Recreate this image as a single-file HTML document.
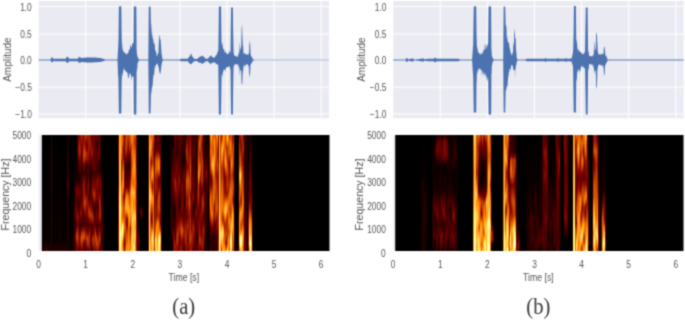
<!DOCTYPE html>
<html><head><meta charset="utf-8"><style>
html,body{margin:0;padding:0;background:#fff;}
#w{position:relative;width:685px;height:320px;overflow:hidden;background:#fff;filter:url(#sb);}
svg{position:absolute;left:0;top:0;}
.sp{position:absolute;top:135px;height:116px;width:289px;}
.sp i{position:absolute;top:0;width:1px;height:100%;display:block;}
</style></head><body><svg width="0" height="0" style="position:absolute"><filter id="sb" x="0" y="0" width="100%" height="100%" color-interpolation-filters="sRGB"><feConvolveMatrix order="3" kernelMatrix="1 2 1 2 8 2 1 2 1" divisor="20" edgeMode="duplicate"/></filter></svg><div id="w">
<svg width="685" height="320" viewBox="0 0 685 320">
<rect x="38.60" y="1.0" width="290.40" height="117.3" fill="#eaeaf2"/>
<line x1="38.60" x2="329.00" y1="6.50" y2="6.50" stroke="#fff" stroke-width="1"/>
<line x1="38.60" x2="329.00" y1="34.00" y2="34.00" stroke="#fff" stroke-width="1"/>
<line x1="38.60" x2="329.00" y1="60.20" y2="60.20" stroke="#fff" stroke-width="1"/>
<line x1="38.60" x2="329.00" y1="87.20" y2="87.20" stroke="#fff" stroke-width="1"/>
<line x1="38.60" x2="329.00" y1="114.00" y2="114.00" stroke="#fff" stroke-width="1"/>
<line x1="85.70" x2="85.70" y1="1.0" y2="118.3" stroke="#fff" stroke-width="1"/>
<line x1="132.80" x2="132.80" y1="1.0" y2="118.3" stroke="#fff" stroke-width="1"/>
<line x1="179.90" x2="179.90" y1="1.0" y2="118.3" stroke="#fff" stroke-width="1"/>
<line x1="227.00" x2="227.00" y1="1.0" y2="118.3" stroke="#fff" stroke-width="1"/>
<line x1="274.10" x2="274.10" y1="1.0" y2="118.3" stroke="#fff" stroke-width="1"/>
<line x1="321.20" x2="321.20" y1="1.0" y2="118.3" stroke="#fff" stroke-width="1"/>
<polygon points="38.6,59.5 39.1,59.4 39.6,59.4 40.1,59.4 40.6,59.4 41.1,59.4 41.6,59.4 42.1,59.4 42.6,59.4 43.1,59.4 43.6,59.4 44.1,59.4 44.6,59.4 45.1,59.4 45.6,59.4 46.1,59.4 46.6,59.4 47.1,59.4 47.6,59.4 48.1,59.4 48.6,59.4 49.1,59.4 49.6,59.4 50.1,59.4 50.5,59.4 50.6,59.2 51.1,58.3 51.5,57.5 51.6,57.5 52.1,57.5 52.6,57.5 53.0,57.5 53.1,57.8 53.5,59.2 53.6,59.2 54.1,59.0 54.6,58.8 55.0,58.7 55.1,58.7 55.6,58.7 56.1,58.7 56.6,58.7 57.1,58.7 57.6,58.7 58.1,58.7 58.6,58.7 59.1,58.7 59.6,58.7 60.1,58.7 60.6,58.7 61.1,58.7 61.6,58.7 62.1,58.7 62.6,58.7 63.1,58.7 63.6,58.7 64.0,58.7 64.1,58.7 64.6,58.9 65.0,59.1 65.1,59.0 65.6,58.4 66.1,57.8 66.6,57.2 66.8,57.0 67.1,57.0 67.6,57.0 68.1,57.0 68.2,57.0 68.6,57.8 69.0,58.7 69.1,58.7 69.6,58.7 70.1,58.7 70.6,58.7 71.1,58.7 71.6,58.7 72.1,58.7 72.6,58.7 73.1,58.7 73.6,58.7 74.1,58.7 74.6,58.7 75.1,58.7 75.6,58.7 76.1,58.7 76.6,58.7 77.1,58.7 77.6,58.7 78.0,58.7 78.1,58.3 78.5,56.7 78.6,57.6 79.1,56.8 79.6,57.4 80.0,57.2 80.1,57.0 80.6,57.4 81.0,58.0 81.1,58.0 81.6,58.0 82.1,57.9 82.6,57.9 83.1,57.9 83.6,57.8 84.1,57.8 84.6,57.7 85.1,57.7 85.6,57.7 86.1,57.6 86.6,57.6 87.1,57.6 87.6,57.5 88.0,57.5 88.1,57.5 88.6,57.5 89.1,57.5 89.6,57.5 90.1,57.5 90.6,57.5 91.1,57.5 91.6,57.5 92.1,57.5 92.6,57.5 93.1,57.5 93.6,57.5 94.1,57.5 94.6,57.5 95.0,57.5 95.1,57.5 95.6,57.6 96.1,57.6 96.6,57.7 97.1,57.7 97.6,57.8 98.1,57.8 98.6,57.9 99.1,57.9 99.6,58.0 100.0,58.0 100.1,58.0 100.6,58.1 101.1,58.3 101.6,58.4 102.1,58.5 102.6,58.6 103.1,58.8 103.6,58.9 104.0,59.0 104.1,59.0 104.6,59.2 105.0,59.4 105.1,59.4 105.6,59.4 106.1,59.4 106.6,59.4 107.1,59.4 107.6,59.4 108.1,59.4 108.6,59.4 109.1,59.4 109.6,59.4 110.1,59.4 110.6,59.4 111.1,59.4 111.6,59.4 112.1,59.4 112.6,59.4 113.1,59.4 113.6,59.4 114.1,59.4 114.6,59.4 115.1,59.4 115.6,59.4 116.1,59.4 116.6,59.4 117.1,59.4 117.5,59.4 117.6,57.2 118.1,49.0 118.4,43.6 118.6,34.8 118.9,6.5 119.1,6.5 119.6,6.4 120.1,6.4 120.6,6.3 121.1,6.2 121.3,6.2 121.6,32.7 122.0,48.9 122.1,41.9 122.6,49.8 123.1,50.2 123.6,52.0 124.0,52.4 124.1,51.3 124.6,53.2 125.1,52.9 125.6,53.5 126.1,53.6 126.6,55.4 127.0,52.9 127.1,53.8 127.6,53.4 128.1,53.2 128.6,51.0 129.1,49.8 129.6,48.9 130.0,50.1 130.1,46.5 130.6,44.2 131.1,47.6 131.6,46.1 132.0,48.4 132.1,43.4 132.6,43.4 133.1,43.6 133.5,42.2 133.6,37.7 133.8,6.5 134.1,6.5 134.6,6.5 135.1,6.5 135.6,6.5 136.1,6.5 136.3,6.5 136.6,49.6 137.0,54.5 137.1,54.7 137.6,56.8 138.0,58.0 138.1,58.1 138.6,58.8 139.0,59.4 139.1,59.4 139.6,59.4 140.1,59.4 140.6,59.4 141.1,59.4 141.6,59.4 142.1,59.4 142.6,59.4 143.1,59.4 143.6,59.4 144.1,59.4 144.6,59.4 145.1,59.4 145.6,59.4 146.1,59.4 146.6,59.4 147.1,59.4 147.6,59.4 148.1,59.4 148.3,59.4 148.6,31.4 148.8,6.6 149.1,6.6 149.6,6.6 150.1,6.6 150.4,6.6 150.6,9.4 151.0,29.6 151.1,21.6 151.6,31.8 152.0,36.2 152.1,31.9 152.6,39.2 153.0,36.8 153.1,38.8 153.6,41.9 154.0,44.4 154.1,43.7 154.6,42.7 155.0,48.3 155.1,49.8 155.6,51.2 156.1,51.7 156.6,55.6 157.0,56.4 157.1,56.9 157.6,53.9 158.1,53.1 158.5,53.3 158.6,48.8 159.1,36.1 159.5,34.5 159.6,36.2 160.1,39.6 160.5,39.2 160.6,40.3 161.1,47.2 161.5,53.2 161.6,54.0 162.1,56.6 162.3,58.5 162.6,58.9 163.0,59.4 163.1,59.4 163.6,59.4 164.1,59.4 164.6,59.4 165.1,59.4 165.6,59.4 166.1,59.4 166.6,59.4 167.1,59.4 167.6,59.4 168.1,59.4 168.6,59.4 169.1,59.4 169.6,59.4 170.1,59.4 170.6,59.4 171.1,59.4 171.6,59.4 172.1,59.4 172.6,59.4 173.1,59.4 173.6,59.4 174.1,59.4 174.6,59.4 175.1,59.4 175.6,59.4 176.1,59.4 176.6,59.4 177.1,59.4 177.6,59.4 178.1,59.4 178.6,59.4 179.1,59.4 179.6,59.4 180.0,59.4 180.1,59.3 180.6,59.0 181.0,58.8 181.1,58.8 181.6,58.8 182.1,58.8 182.6,58.8 183.1,58.8 183.6,58.8 184.1,58.8 184.6,58.8 185.1,58.8 185.6,58.8 186.1,58.8 186.6,58.8 187.1,58.8 187.6,58.8 188.0,58.8 188.1,58.6 188.6,57.5 189.1,56.8 189.3,56.5 189.6,56.9 190.1,55.1 190.5,55.6 190.6,54.6 191.1,52.4 191.5,55.5 191.6,54.7 192.1,55.8 192.5,57.0 192.6,56.8 193.1,57.4 193.6,58.2 194.0,58.8 194.1,58.8 194.6,58.8 195.1,58.8 195.6,58.9 196.1,58.9 196.6,58.9 197.0,58.9 197.1,58.8 197.6,58.5 198.1,58.1 198.6,57.8 199.0,57.5 199.1,57.4 199.6,57.0 200.1,56.0 200.6,56.4 201.1,56.8 201.5,56.1 201.6,55.9 202.1,56.4 202.6,55.3 203.0,55.8 203.1,56.1 203.6,56.5 204.1,57.5 204.5,57.5 204.6,57.6 205.1,58.0 205.6,58.5 206.0,58.8 206.1,58.8 206.6,58.8 207.1,58.8 207.6,58.8 208.0,58.8 208.1,58.6 208.6,57.7 209.1,57.7 209.5,56.3 209.6,56.2 210.1,56.6 210.6,56.0 211.0,55.3 211.1,55.1 211.6,55.9 212.1,56.8 212.5,57.5 212.6,57.5 213.1,57.5 213.6,57.5 214.1,57.5 214.5,57.5 214.6,57.4 215.1,57.0 215.6,55.8 216.1,55.2 216.5,55.3 216.6,55.0 217.1,52.9 217.6,52.5 218.1,49.9 218.3,52.4 218.6,34.7 218.9,6.5 219.1,6.5 219.6,6.5 220.1,6.5 220.6,6.5 221.0,6.5 221.1,12.6 221.5,43.1 221.6,42.8 222.1,46.2 222.6,41.6 223.0,50.5 223.1,49.3 223.6,48.4 224.1,49.3 224.6,52.4 225.1,52.4 225.6,52.3 226.0,50.1 226.1,52.8 226.6,53.6 227.1,53.8 227.6,54.6 228.0,53.6 228.1,53.8 228.6,54.0 229.1,49.9 229.6,52.7 230.1,52.2 230.5,52.3 230.6,46.2 231.1,7.5 231.6,7.5 232.1,7.5 232.6,7.5 232.9,7.5 233.1,30.5 233.5,48.6 233.6,52.6 234.1,55.2 234.5,56.3 234.6,55.5 235.1,55.7 235.6,55.7 236.1,56.6 236.6,56.5 237.1,56.7 237.6,56.6 238.0,56.5 238.1,55.0 238.6,54.1 239.1,51.3 239.3,54.1 239.6,44.4 239.8,41.7 240.1,47.7 240.3,47.2 240.6,50.4 241.1,47.8 241.2,46.8 241.6,27.9 242.1,24.3 242.3,32.7 242.6,39.2 242.8,45.6 243.1,45.3 243.5,53.5 243.6,53.4 244.0,54.7 244.1,53.4 244.6,52.5 245.1,54.4 245.6,53.5 246.1,55.3 246.6,53.6 247.1,55.1 247.6,54.6 248.0,54.4 248.1,52.2 248.6,54.9 249.0,54.0 249.1,51.8 249.4,38.6 249.6,42.5 250.0,44.4 250.1,41.0 250.5,52.6 250.6,54.1 251.1,56.1 251.5,56.6 251.6,57.1 252.1,57.3 252.6,58.5 253.0,59.4 253.1,59.4 253.6,59.5 254.1,59.6 254.6,59.7 255.0,59.8 255.1,59.8 255.6,59.8 256.1,59.8 256.6,59.8 257.1,59.8 257.6,59.8 258.1,59.8 258.6,59.8 259.1,59.8 259.6,59.8 260.1,59.8 260.6,59.8 261.1,59.8 261.6,59.8 262.1,59.8 262.6,59.8 263.1,59.8 263.6,59.8 264.1,59.8 264.6,59.8 265.1,59.8 265.6,59.8 266.1,59.8 266.6,59.8 267.1,59.8 267.6,59.8 268.1,59.8 268.6,59.8 269.1,59.8 269.6,59.8 270.1,59.8 270.6,59.8 271.1,59.8 271.6,59.8 272.1,59.8 272.6,59.8 273.1,59.8 273.6,59.8 274.1,59.8 274.6,59.8 275.1,59.8 275.6,59.8 276.1,59.8 276.6,59.8 277.1,59.8 277.6,59.8 278.1,59.8 278.6,59.8 279.1,59.8 279.6,59.8 280.1,59.8 280.6,59.8 281.1,59.8 281.6,59.8 282.1,59.8 282.6,59.8 283.1,59.8 283.6,59.8 284.1,59.8 284.6,59.8 285.1,59.8 285.6,59.8 286.1,59.8 286.6,59.8 287.1,59.8 287.6,59.8 288.1,59.8 288.6,59.8 289.1,59.8 289.6,59.8 290.1,59.8 290.6,59.8 291.1,59.8 291.6,59.8 292.1,59.8 292.6,59.8 293.1,59.8 293.6,59.8 294.1,59.8 294.6,59.8 295.1,59.8 295.6,59.8 296.1,59.8 296.6,59.8 297.1,59.8 297.6,59.8 298.1,59.8 298.6,59.8 299.1,59.8 299.6,59.8 300.1,59.8 300.6,59.8 301.1,59.8 301.6,59.8 302.1,59.8 302.6,59.8 303.1,59.8 303.6,59.8 304.1,59.8 304.6,59.8 305.1,59.8 305.6,59.8 306.1,59.8 306.6,59.8 307.1,59.8 307.6,59.8 308.1,59.8 308.6,59.8 309.1,59.8 309.6,59.8 310.1,59.8 310.6,59.8 311.1,59.8 311.6,59.8 312.1,59.8 312.6,59.8 313.1,59.8 313.6,59.8 314.1,59.8 314.6,59.8 315.1,59.8 315.6,59.8 316.1,59.8 316.6,59.8 317.1,59.8 317.6,59.8 318.1,59.8 318.6,59.8 319.1,59.8 319.6,59.8 320.1,59.8 320.6,59.8 321.1,59.8 321.6,59.8 322.1,59.8 322.6,59.8 323.1,59.8 323.6,59.8 324.1,59.8 324.6,59.8 325.1,59.8 325.6,59.8 326.1,59.8 326.6,59.8 327.1,59.8 327.6,59.8 328.1,59.8 328.6,59.8 329.0,59.8 329.0,60.3 328.6,60.3 328.1,60.3 327.6,60.3 327.1,60.3 326.6,60.3 326.1,60.3 325.6,60.3 325.1,60.3 324.6,60.3 324.1,60.3 323.6,60.3 323.1,60.3 322.6,60.3 322.1,60.3 321.6,60.3 321.1,60.3 320.6,60.3 320.1,60.3 319.6,60.3 319.1,60.3 318.6,60.3 318.1,60.3 317.6,60.3 317.1,60.3 316.6,60.3 316.1,60.3 315.6,60.3 315.1,60.3 314.6,60.3 314.1,60.3 313.6,60.3 313.1,60.3 312.6,60.3 312.1,60.3 311.6,60.3 311.1,60.3 310.6,60.3 310.1,60.3 309.6,60.3 309.1,60.3 308.6,60.3 308.1,60.3 307.6,60.3 307.1,60.3 306.6,60.3 306.1,60.3 305.6,60.3 305.1,60.3 304.6,60.3 304.1,60.3 303.6,60.3 303.1,60.3 302.6,60.3 302.1,60.3 301.6,60.3 301.1,60.3 300.6,60.3 300.1,60.3 299.6,60.3 299.1,60.3 298.6,60.3 298.1,60.3 297.6,60.3 297.1,60.3 296.6,60.3 296.1,60.3 295.6,60.3 295.1,60.3 294.6,60.3 294.1,60.3 293.6,60.3 293.1,60.3 292.6,60.3 292.1,60.3 291.6,60.3 291.1,60.3 290.6,60.3 290.1,60.3 289.6,60.3 289.1,60.3 288.6,60.3 288.1,60.3 287.6,60.3 287.1,60.3 286.6,60.3 286.1,60.3 285.6,60.3 285.1,60.3 284.6,60.3 284.1,60.3 283.6,60.3 283.1,60.3 282.6,60.3 282.1,60.3 281.6,60.3 281.1,60.3 280.6,60.3 280.1,60.3 279.6,60.3 279.1,60.3 278.6,60.3 278.1,60.3 277.6,60.3 277.1,60.3 276.6,60.3 276.1,60.3 275.6,60.3 275.1,60.3 274.6,60.3 274.1,60.3 273.6,60.3 273.1,60.3 272.6,60.3 272.1,60.3 271.6,60.3 271.1,60.3 270.6,60.3 270.1,60.3 269.6,60.3 269.1,60.3 268.6,60.3 268.1,60.3 267.6,60.3 267.1,60.3 266.6,60.3 266.1,60.3 265.6,60.3 265.1,60.3 264.6,60.3 264.1,60.3 263.6,60.3 263.1,60.3 262.6,60.3 262.1,60.3 261.6,60.3 261.1,60.3 260.6,60.3 260.1,60.3 259.6,60.3 259.1,60.3 258.6,60.3 258.1,60.3 257.6,60.3 257.1,60.3 256.6,60.3 256.1,60.3 255.6,60.3 255.1,60.3 255.0,60.3 254.6,60.4 254.1,60.4 253.6,60.5 253.1,60.6 253.0,60.6 252.6,61.5 252.1,62.7 251.6,62.8 251.5,63.0 251.1,63.7 250.6,65.1 250.5,65.1 250.1,73.2 250.0,79.0 249.6,73.7 249.4,75.7 249.1,73.8 249.0,69.3 248.6,65.6 248.1,65.8 248.0,64.1 247.6,65.0 247.1,64.0 246.6,64.6 246.1,64.1 245.6,65.6 245.1,67.0 244.6,64.0 244.1,66.6 244.0,65.4 243.6,66.5 243.5,66.1 243.1,72.8 242.8,70.2 242.6,76.4 242.3,86.2 242.1,82.5 241.6,85.1 241.2,71.4 241.1,69.9 240.6,70.7 240.3,69.2 240.1,71.7 239.8,76.2 239.6,72.6 239.3,65.4 239.1,66.7 238.6,68.0 238.1,64.0 238.0,64.0 237.6,65.0 237.1,64.3 236.6,64.3 236.1,64.1 235.6,64.9 235.1,64.1 234.6,64.1 234.5,64.6 234.1,66.3 233.6,66.5 233.5,68.6 233.1,91.9 232.9,114.4 232.6,114.4 232.1,114.4 231.6,114.4 231.1,114.4 230.6,72.0 230.5,68.5 230.1,68.9 229.6,66.6 229.1,66.1 228.6,66.4 228.1,66.7 228.0,67.0 227.6,66.9 227.1,67.7 226.6,66.8 226.1,67.9 226.0,67.4 225.6,72.6 225.1,68.5 224.6,70.3 224.1,69.6 223.6,69.7 223.1,72.2 223.0,72.1 222.6,77.7 222.1,72.8 221.6,76.1 221.5,79.0 221.1,107.5 221.0,114.4 220.6,114.4 220.1,114.4 219.6,114.4 219.1,114.4 218.9,114.4 218.6,86.9 218.3,66.6 218.1,65.0 217.6,64.5 217.1,63.9 216.6,64.9 216.5,64.2 216.1,63.6 215.6,63.6 215.1,62.4 214.6,62.6 214.5,62.5 214.1,62.5 213.6,62.5 213.1,62.5 212.6,62.5 212.5,62.5 212.1,63.6 211.6,63.3 211.1,63.3 211.0,64.6 210.6,64.5 210.1,63.1 209.6,63.0 209.5,63.8 209.1,62.7 208.6,62.3 208.1,61.4 208.0,61.2 207.6,61.2 207.1,61.2 206.6,61.2 206.1,61.2 206.0,61.2 205.6,61.5 205.1,62.0 204.6,62.4 204.5,62.5 204.1,62.4 203.6,63.0 203.1,63.3 203.0,63.5 202.6,64.0 202.1,63.5 201.6,63.2 201.5,63.5 201.1,63.6 200.6,62.5 200.1,62.4 199.6,62.9 199.1,62.6 199.0,62.5 198.6,62.2 198.1,61.9 197.6,61.5 197.1,61.2 197.0,61.1 196.6,61.1 196.1,61.1 195.6,61.1 195.1,61.2 194.6,61.2 194.1,61.2 194.0,61.2 193.6,61.8 193.1,62.6 192.6,62.2 192.5,62.9 192.1,63.4 191.6,63.5 191.5,64.6 191.1,63.8 190.6,64.2 190.5,64.1 190.1,64.0 189.6,63.2 189.3,63.4 189.1,63.0 188.6,62.5 188.1,61.4 188.0,61.2 187.6,61.2 187.1,61.2 186.6,61.2 186.1,61.2 185.6,61.2 185.1,61.2 184.6,61.2 184.1,61.2 183.6,61.2 183.1,61.2 182.6,61.2 182.1,61.2 181.6,61.2 181.1,61.2 181.0,61.2 180.6,61.0 180.1,60.7 180.0,60.6 179.6,60.6 179.1,60.6 178.6,60.6 178.1,60.6 177.6,60.6 177.1,60.6 176.6,60.6 176.1,60.6 175.6,60.6 175.1,60.6 174.6,60.6 174.1,60.6 173.6,60.6 173.1,60.6 172.6,60.6 172.1,60.6 171.6,60.6 171.1,60.6 170.6,60.6 170.1,60.6 169.6,60.6 169.1,60.6 168.6,60.6 168.1,60.6 167.6,60.6 167.1,60.6 166.6,60.6 166.1,60.6 165.6,60.6 165.1,60.6 164.6,60.6 164.1,60.6 163.6,60.6 163.1,60.6 163.0,60.6 162.6,61.1 162.3,61.5 162.1,62.3 161.6,64.5 161.5,65.1 161.1,68.0 160.6,74.0 160.5,75.1 160.1,71.3 159.6,74.0 159.5,73.3 159.1,69.8 158.6,66.7 158.5,67.0 158.1,65.6 157.6,63.7 157.1,63.6 157.0,63.5 156.6,64.1 156.1,64.9 155.6,65.5 155.1,68.2 155.0,65.3 154.6,68.2 154.1,75.3 154.0,75.7 153.6,74.0 153.1,78.3 153.0,80.1 152.6,85.0 152.1,88.4 152.0,85.2 151.6,91.0 151.1,95.0 151.0,89.9 150.6,109.7 150.4,113.5 150.1,113.5 149.6,113.5 149.1,113.5 148.8,113.5 148.6,84.0 148.3,60.6 148.1,60.6 147.6,60.6 147.1,60.6 146.6,60.6 146.1,60.6 145.6,60.6 145.1,60.6 144.6,60.6 144.1,60.6 143.6,60.6 143.1,60.6 142.6,60.6 142.1,60.6 141.6,60.6 141.1,60.6 140.6,60.6 140.1,60.6 139.6,60.6 139.1,60.6 139.0,60.6 138.6,61.2 138.1,61.9 138.0,62.0 137.6,63.4 137.1,70.0 137.0,68.8 136.6,72.5 136.3,114.4 136.1,114.4 135.6,114.4 135.1,114.4 134.6,114.4 134.1,114.4 133.8,114.4 133.6,83.8 133.5,76.3 133.1,77.7 132.6,75.5 132.1,76.9 132.0,75.8 131.6,80.9 131.1,76.0 130.6,74.2 130.1,72.7 130.0,73.9 129.6,72.9 129.1,76.0 128.6,78.2 128.1,77.7 127.6,73.2 127.1,73.0 127.0,72.1 126.6,71.7 126.1,72.0 125.6,70.6 125.1,71.3 124.6,68.0 124.1,70.3 124.0,70.0 123.6,68.6 123.1,72.8 122.6,77.0 122.1,72.4 122.0,71.3 121.6,84.9 121.3,113.5 121.1,113.5 120.6,113.5 120.1,113.5 119.6,113.5 119.1,113.5 118.9,113.5 118.6,90.4 118.4,76.9 118.1,76.1 117.6,62.8 117.5,60.6 117.1,60.6 116.6,60.6 116.1,60.6 115.6,60.6 115.1,60.6 114.6,60.6 114.1,60.6 113.6,60.6 113.1,60.6 112.6,60.6 112.1,60.6 111.6,60.6 111.1,60.6 110.6,60.6 110.1,60.6 109.6,60.6 109.1,60.6 108.6,60.6 108.1,60.6 107.6,60.6 107.1,60.6 106.6,60.6 106.1,60.6 105.6,60.6 105.1,60.6 105.0,60.6 104.6,60.8 104.1,61.0 104.0,61.0 103.6,61.1 103.1,61.2 102.6,61.4 102.1,61.5 101.6,61.6 101.1,61.7 100.6,61.9 100.1,62.0 100.0,62.0 99.6,62.0 99.1,62.1 98.6,62.1 98.1,62.1 97.6,62.1 97.1,62.2 96.6,62.2 96.1,62.2 95.6,62.3 95.1,62.3 95.0,62.3 94.6,62.3 94.1,62.3 93.6,62.3 93.1,62.4 92.6,62.4 92.1,62.4 91.6,62.4 91.1,62.4 90.6,62.4 90.1,62.4 89.6,62.5 89.1,62.5 88.6,62.5 88.1,62.5 88.0,62.5 87.6,62.5 87.1,62.4 86.6,62.4 86.1,62.4 85.6,62.3 85.1,62.3 84.6,62.3 84.1,62.2 83.6,62.2 83.1,62.1 82.6,62.1 82.1,62.1 81.6,62.0 81.1,62.0 81.0,62.0 80.6,62.6 80.1,63.2 80.0,62.4 79.6,62.4 79.1,62.9 78.6,62.5 78.5,62.3 78.1,61.7 78.0,61.3 77.6,61.3 77.1,61.3 76.6,61.3 76.1,61.3 75.6,61.3 75.1,61.3 74.6,61.3 74.1,61.3 73.6,61.3 73.1,61.3 72.6,61.3 72.1,61.3 71.6,61.3 71.1,61.3 70.6,61.3 70.1,61.3 69.6,61.3 69.1,61.3 69.0,61.3 68.6,62.1 68.2,62.8 68.1,62.8 67.6,62.8 67.1,62.8 66.8,62.8 66.6,62.6 66.1,62.1 65.6,61.5 65.1,61.0 65.0,60.9 64.6,61.1 64.1,61.3 64.0,61.3 63.6,61.3 63.1,61.3 62.6,61.3 62.1,61.3 61.6,61.3 61.1,61.3 60.6,61.3 60.1,61.3 59.6,61.3 59.1,61.3 58.6,61.3 58.1,61.3 57.6,61.3 57.1,61.3 56.6,61.3 56.1,61.3 55.6,61.3 55.1,61.3 55.0,61.3 54.6,61.2 54.1,61.0 53.6,60.8 53.5,60.8 53.1,62.0 53.0,62.3 52.6,62.3 52.1,62.3 51.6,62.3 51.5,62.3 51.1,61.6 50.6,60.8 50.5,60.6 50.1,60.6 49.6,60.6 49.1,60.6 48.6,60.6 48.1,60.6 47.6,60.6 47.1,60.6 46.6,60.6 46.1,60.6 45.6,60.6 45.1,60.6 44.6,60.6 44.1,60.6 43.6,60.6 43.1,60.6 42.6,60.6 42.1,60.6 41.6,60.6 41.1,60.6 40.6,60.6 40.1,60.6 39.6,60.6 39.1,60.6 38.6,60.5" fill="#4c72b0"/>
<text transform="translate(31.80,10.50) scale(0.84,1)" font-size="10" text-anchor="end" font-family="Liberation Sans" fill="#555555">1.0</text>
<text transform="translate(31.80,38.00) scale(0.84,1)" font-size="10" text-anchor="end" font-family="Liberation Sans" fill="#555555">0.5</text>
<text transform="translate(31.80,64.10) scale(0.84,1)" font-size="10" text-anchor="end" font-family="Liberation Sans" fill="#555555">0.0</text>
<text transform="translate(31.80,91.00) scale(0.84,1)" font-size="10" text-anchor="end" font-family="Liberation Sans" fill="#555555">−0.5</text>
<text transform="translate(31.80,118.00) scale(0.84,1)" font-size="10" text-anchor="end" font-family="Liberation Sans" fill="#555555">−1.0</text>
<text transform="translate(10.60,59.60) rotate(-90) scale(1,1)" font-size="10" text-anchor="middle" font-family="Liberation Sans" fill="#555555">Amplitude</text>
<rect x="38.60" y="135.0" width="290.40" height="116.0" fill="#eeeef5"/>
<rect x="41.80" y="135.0" width="287.70" height="116.0" fill="#000"/>
<text transform="translate(31.20,256.50) scale(0.84,1)" font-size="10" text-anchor="end" font-family="Liberation Sans" fill="#555555">0</text>
<text transform="translate(31.20,233.30) scale(0.84,1)" font-size="10" text-anchor="end" font-family="Liberation Sans" fill="#555555">1000</text>
<text transform="translate(31.20,209.60) scale(0.84,1)" font-size="10" text-anchor="end" font-family="Liberation Sans" fill="#555555">2000</text>
<text transform="translate(31.20,185.90) scale(0.84,1)" font-size="10" text-anchor="end" font-family="Liberation Sans" fill="#555555">3000</text>
<text transform="translate(31.20,162.90) scale(0.84,1)" font-size="10" text-anchor="end" font-family="Liberation Sans" fill="#555555">4000</text>
<text transform="translate(31.20,138.80) scale(0.84,1)" font-size="10" text-anchor="end" font-family="Liberation Sans" fill="#555555">5000</text>
<text transform="translate(38.60,267.50) scale(0.84,1)" font-size="10" text-anchor="middle" font-family="Liberation Sans" fill="#555555">0</text>
<text transform="translate(85.70,267.50) scale(0.84,1)" font-size="10" text-anchor="middle" font-family="Liberation Sans" fill="#555555">1</text>
<text transform="translate(132.80,267.50) scale(0.84,1)" font-size="10" text-anchor="middle" font-family="Liberation Sans" fill="#555555">2</text>
<text transform="translate(179.90,267.50) scale(0.84,1)" font-size="10" text-anchor="middle" font-family="Liberation Sans" fill="#555555">3</text>
<text transform="translate(227.00,267.50) scale(0.84,1)" font-size="10" text-anchor="middle" font-family="Liberation Sans" fill="#555555">4</text>
<text transform="translate(274.10,267.50) scale(0.84,1)" font-size="10" text-anchor="middle" font-family="Liberation Sans" fill="#555555">5</text>
<text transform="translate(321.20,267.50) scale(0.84,1)" font-size="10" text-anchor="middle" font-family="Liberation Sans" fill="#555555">6</text>
<text transform="translate(183.80,280.50) scale(0.84,1)" font-size="10.4" text-anchor="middle" font-family="Liberation Sans" fill="#555555">Time [s]</text>
<text transform="translate(8.60,194.50) rotate(-90) scale(1,1)" font-size="10.6" text-anchor="middle" font-family="Liberation Sans" fill="#555555">Frequency [Hz]</text>
<text transform="translate(183.80,313.50) scale(0.86,1)" font-size="24" text-anchor="middle" font-family="Liberation Serif" fill="#3a3a3a">(a)</text>
<rect x="393.20" y="1.0" width="290.40" height="117.3" fill="#eaeaf2"/>
<line x1="393.20" x2="683.60" y1="6.50" y2="6.50" stroke="#fff" stroke-width="1"/>
<line x1="393.20" x2="683.60" y1="34.00" y2="34.00" stroke="#fff" stroke-width="1"/>
<line x1="393.20" x2="683.60" y1="60.20" y2="60.20" stroke="#fff" stroke-width="1"/>
<line x1="393.20" x2="683.60" y1="87.20" y2="87.20" stroke="#fff" stroke-width="1"/>
<line x1="393.20" x2="683.60" y1="114.00" y2="114.00" stroke="#fff" stroke-width="1"/>
<line x1="440.30" x2="440.30" y1="1.0" y2="118.3" stroke="#fff" stroke-width="1"/>
<line x1="487.40" x2="487.40" y1="1.0" y2="118.3" stroke="#fff" stroke-width="1"/>
<line x1="534.50" x2="534.50" y1="1.0" y2="118.3" stroke="#fff" stroke-width="1"/>
<line x1="581.60" x2="581.60" y1="1.0" y2="118.3" stroke="#fff" stroke-width="1"/>
<line x1="628.70" x2="628.70" y1="1.0" y2="118.3" stroke="#fff" stroke-width="1"/>
<line x1="675.80" x2="675.80" y1="1.0" y2="118.3" stroke="#fff" stroke-width="1"/>
<polygon points="393.2,59.4 393.7,59.4 394.2,59.4 394.7,59.4 395.2,59.4 395.7,59.4 396.2,59.4 396.7,59.4 397.2,59.4 397.7,59.4 398.2,59.4 398.7,59.4 399.2,59.4 399.7,59.4 400.2,59.4 400.7,59.4 401.2,59.4 401.7,59.4 402.2,59.4 402.7,59.4 403.2,59.4 403.7,59.4 404.2,59.4 404.7,59.4 405.2,59.4 405.6,59.4 405.7,59.2 406.1,58.3 406.2,58.3 406.7,58.3 407.2,58.3 407.6,58.3 407.7,58.5 408.1,59.4 408.2,59.4 408.7,59.3 409.2,59.1 409.7,59.0 410.2,58.9 410.7,58.8 411.2,58.7 411.6,58.6 411.7,58.6 412.2,58.6 412.7,58.6 413.1,58.6 413.2,58.7 413.7,59.1 414.1,59.4 414.2,59.4 414.7,59.4 415.2,59.4 415.7,59.4 416.1,59.4 416.2,59.3 416.6,58.9 416.7,59.0 417.1,59.4 417.2,59.4 417.7,59.3 418.2,59.2 418.7,59.1 419.2,59.0 419.7,58.9 420.2,58.8 420.7,58.8 421.2,58.7 421.7,58.6 422.1,58.5 422.2,58.5 422.7,58.5 423.2,58.5 423.6,58.5 423.7,58.6 424.2,59.0 424.6,59.4 424.7,59.3 425.2,59.2 425.7,59.1 426.2,59.1 426.7,59.0 427.2,58.9 427.6,58.8 427.7,58.8 428.2,58.8 428.7,58.8 429.2,58.8 429.7,58.8 430.2,58.8 430.7,58.8 431.2,58.8 431.7,58.8 432.2,58.8 432.7,58.8 433.2,58.8 433.6,58.8 433.7,58.7 434.2,58.2 434.6,57.8 434.7,57.8 435.2,57.8 435.6,57.8 435.7,57.9 436.2,58.3 436.6,58.7 436.7,58.7 437.2,58.7 437.7,58.7 438.2,58.7 438.7,58.7 439.2,58.7 439.7,58.7 440.2,58.7 440.7,58.7 441.2,58.7 441.7,58.7 442.2,58.7 442.7,58.7 443.2,58.7 443.7,58.7 444.2,58.7 444.7,58.7 445.2,58.7 445.7,58.7 446.2,58.7 446.7,58.7 447.2,58.7 447.7,58.7 448.2,58.7 448.7,58.7 449.2,58.7 449.7,58.7 450.2,58.7 450.7,58.7 451.2,58.7 451.7,58.7 452.2,58.7 452.7,58.7 453.2,58.7 453.7,58.7 454.2,58.7 454.7,58.7 455.2,58.7 455.7,58.7 456.2,58.7 456.7,58.7 457.2,58.7 457.7,58.7 458.2,58.7 458.6,58.7 458.7,58.8 459.2,59.1 459.6,59.4 459.7,59.4 460.2,59.4 460.7,59.4 461.2,59.4 461.7,59.4 462.2,59.4 462.7,59.4 463.2,59.4 463.7,59.4 464.2,59.4 464.7,59.4 465.2,59.4 465.7,59.4 466.2,59.4 466.7,59.4 467.2,59.4 467.7,59.4 468.2,59.4 468.7,59.4 469.2,59.4 469.7,59.4 470.2,59.4 470.7,59.4 471.2,59.4 471.7,59.4 472.1,59.4 472.2,57.6 472.7,51.1 473.2,43.7 473.7,12.1 473.8,6.5 474.2,6.5 474.7,6.4 475.2,6.3 475.7,6.3 476.2,6.2 476.5,33.8 476.7,39.4 476.9,47.0 477.2,46.5 477.7,50.5 478.2,52.4 478.6,52.5 478.7,52.8 479.2,52.8 479.7,54.2 480.2,54.8 480.7,54.1 481.2,52.2 481.6,55.2 481.7,54.1 482.2,53.3 482.7,53.4 483.2,51.0 483.7,49.4 484.2,50.5 484.6,49.6 484.7,44.9 485.2,43.8 485.7,49.0 486.2,49.0 486.6,46.8 486.7,44.5 487.2,46.6 487.7,44.3 488.1,43.7 488.2,39.1 488.6,6.5 488.7,6.5 489.2,6.5 489.7,6.5 490.2,6.5 490.7,6.5 491.1,6.5 491.2,21.8 491.4,47.6 491.7,53.2 491.8,55.2 492.2,56.6 492.6,58.0 492.7,58.1 493.2,58.8 493.6,59.4 493.7,59.4 494.2,59.4 494.7,59.4 495.2,59.4 495.7,59.4 496.2,59.4 496.7,59.4 497.2,59.4 497.7,59.4 498.2,59.4 498.7,59.4 499.2,59.4 499.7,59.4 500.2,59.4 500.7,59.4 501.2,59.4 501.7,59.4 502.2,59.4 502.7,59.4 503.2,59.4 503.7,6.6 504.2,6.6 504.7,6.6 505.2,6.6 505.7,26.1 506.2,24.8 506.6,30.9 506.7,39.1 507.2,35.2 507.6,42.5 507.7,39.9 508.2,43.9 508.6,41.0 508.7,42.6 509.2,43.5 509.6,49.7 509.7,46.8 510.2,50.2 510.7,53.4 511.2,52.7 511.6,57.2 511.7,54.9 512.2,54.7 512.7,52.9 513.1,51.4 513.2,46.5 513.7,43.4 514.1,40.5 514.2,33.8 514.7,28.3 515.1,35.3 515.2,38.6 515.7,37.9 516.1,52.5 516.2,50.1 516.7,56.8 516.9,58.5 517.2,58.9 517.6,59.4 517.7,59.4 518.2,59.4 518.7,59.4 519.2,59.4 519.7,59.4 520.2,59.4 520.7,59.4 521.2,59.4 521.7,59.4 522.2,59.4 522.7,59.4 523.2,59.4 523.7,59.4 524.2,59.4 524.7,59.4 525.2,59.4 525.6,59.4 525.7,59.3 526.2,59.0 526.6,58.8 526.7,58.8 527.2,58.8 527.7,58.8 528.2,58.8 528.7,58.8 529.2,58.8 529.7,58.8 530.2,58.8 530.7,58.8 531.2,58.8 531.7,58.8 532.2,58.8 532.7,58.8 533.2,58.8 533.7,58.8 534.2,58.8 534.7,58.8 535.2,58.8 535.7,58.8 536.2,58.8 536.7,58.8 537.2,58.8 537.7,58.8 538.2,58.8 538.7,58.8 539.2,58.8 539.7,58.8 540.2,58.8 540.7,58.8 541.2,58.8 541.7,58.8 542.2,58.8 542.7,58.8 543.2,58.8 543.7,58.8 544.2,58.8 544.6,58.8 544.7,58.7 545.2,58.2 545.6,57.8 545.7,57.9 546.2,58.4 546.6,58.8 546.7,58.8 547.2,58.8 547.7,58.8 548.2,58.8 548.7,58.8 549.2,58.8 549.7,58.8 550.2,58.8 550.7,58.8 551.2,58.8 551.7,58.8 552.2,58.8 552.7,58.8 553.2,58.8 553.7,58.8 554.2,58.8 554.7,58.8 555.2,58.8 555.7,58.8 556.2,58.8 556.7,58.8 557.1,58.8 557.2,58.7 557.7,58.2 558.1,57.8 558.2,57.9 558.7,58.4 559.1,58.8 559.2,58.8 559.7,58.8 560.2,58.8 560.7,58.8 561.2,58.8 561.7,58.8 562.2,58.8 562.7,58.8 563.2,58.8 563.7,58.8 564.2,58.8 564.7,58.8 565.1,58.8 565.2,58.7 565.7,58.2 566.1,57.8 566.2,57.9 566.7,58.4 567.1,58.8 567.2,58.8 567.7,58.8 568.2,58.7 568.7,58.7 569.2,58.7 569.7,58.6 570.2,58.6 570.7,58.6 571.2,58.5 571.6,58.5 571.7,57.9 572.2,56.0 572.7,54.1 573.1,50.7 573.2,48.7 573.7,29.3 573.9,6.0 574.2,6.0 574.7,6.0 575.2,6.0 575.7,6.0 575.9,6.0 576.2,38.0 576.3,39.5 576.7,40.9 577.2,44.7 577.6,51.4 577.7,48.6 578.2,49.1 578.7,51.4 579.2,51.4 579.7,50.0 580.2,52.9 580.6,51.9 580.7,51.9 581.2,51.9 581.7,53.2 582.2,53.9 582.6,53.7 582.7,55.0 583.2,53.7 583.7,53.8 584.2,53.2 584.7,52.3 585.1,50.5 585.2,40.5 585.7,13.6 585.8,7.5 586.2,7.5 586.7,7.5 587.2,7.5 587.6,7.5 587.7,16.0 588.1,52.9 588.2,51.0 588.7,52.0 589.1,56.2 589.2,56.2 589.7,55.5 590.2,56.0 590.7,56.3 591.2,56.0 591.7,56.4 592.2,56.4 592.6,56.1 592.7,55.4 593.2,55.4 593.7,53.9 593.9,50.0 594.2,42.1 594.4,41.5 594.7,46.3 594.9,51.8 595.2,49.7 595.7,49.3 595.8,47.8 596.2,32.2 596.7,34.9 596.9,31.3 597.2,42.0 597.4,43.6 597.7,51.1 598.1,52.8 598.2,52.7 598.6,55.1 598.7,54.7 599.2,54.6 599.7,53.8 600.2,55.3 600.7,54.0 601.2,54.7 601.7,53.3 602.2,54.5 602.6,53.8 602.7,54.0 603.2,53.1 603.6,54.4 603.7,50.4 604.0,46.2 604.2,47.2 604.6,46.7 604.7,47.9 605.1,50.9 605.2,53.7 605.7,56.0 606.1,56.2 606.2,55.3 606.7,57.3 607.2,58.5 607.6,59.4 607.7,59.4 608.2,59.4 608.7,59.5 609.2,59.5 609.6,59.6 609.7,59.6 610.2,59.6 610.7,59.6 611.2,59.6 611.7,59.6 612.2,59.6 612.7,59.6 613.2,59.6 613.7,59.6 614.2,59.6 614.7,59.6 615.2,59.6 615.7,59.6 616.2,59.6 616.7,59.6 617.2,59.6 617.7,59.6 618.2,59.6 618.7,59.6 619.2,59.6 619.7,59.6 620.2,59.6 620.7,59.6 621.2,59.6 621.7,59.6 622.2,59.6 622.7,59.6 623.2,59.6 623.7,59.6 624.2,59.6 624.7,59.6 625.2,59.6 625.7,59.6 626.2,59.6 626.7,59.6 627.2,59.6 627.7,59.6 628.2,59.6 628.7,59.6 629.2,59.6 629.7,59.6 630.2,59.6 630.7,59.6 631.2,59.6 631.7,59.6 632.2,59.6 632.7,59.6 633.2,59.6 633.7,59.6 634.2,59.6 634.7,59.6 635.2,59.6 635.7,59.6 636.2,59.6 636.7,59.6 637.2,59.6 637.7,59.6 638.2,59.6 638.7,59.6 639.2,59.6 639.7,59.6 640.2,59.6 640.7,59.6 641.2,59.6 641.7,59.6 642.2,59.6 642.7,59.6 643.2,59.6 643.7,59.6 644.2,59.6 644.7,59.6 645.2,59.6 645.7,59.6 646.2,59.6 646.7,59.6 647.2,59.6 647.7,59.6 648.2,59.6 648.7,59.6 649.2,59.6 649.7,59.6 650.2,59.6 650.7,59.6 651.2,59.6 651.7,59.6 652.2,59.6 652.7,59.6 653.2,59.6 653.7,59.6 654.2,59.6 654.7,59.6 655.2,59.6 655.7,59.6 656.2,59.6 656.7,59.6 657.2,59.6 657.7,59.6 658.2,59.6 658.7,59.6 659.2,59.6 659.7,59.6 660.2,59.6 660.7,59.6 661.2,59.6 661.7,59.6 662.2,59.6 662.7,59.6 663.2,59.6 663.7,59.6 664.2,59.6 664.7,59.6 665.2,59.6 665.7,59.6 666.2,59.6 666.7,59.6 667.2,59.6 667.7,59.6 668.2,59.6 668.7,59.6 669.2,59.6 669.7,59.6 670.2,59.6 670.7,59.6 671.2,59.6 671.7,59.6 672.2,59.6 672.7,59.6 673.2,59.6 673.7,59.6 674.2,59.6 674.7,59.6 675.2,59.6 675.7,59.6 676.2,59.6 676.7,59.6 677.2,59.6 677.7,59.6 678.2,59.6 678.7,59.6 679.2,59.6 679.7,59.6 680.2,59.6 680.7,59.6 681.2,59.6 681.7,59.6 682.2,59.6 682.7,59.6 683.2,59.6 683.6,59.6 683.6,60.4 683.2,60.4 682.7,60.4 682.2,60.4 681.7,60.4 681.2,60.4 680.7,60.4 680.2,60.4 679.7,60.4 679.2,60.4 678.7,60.4 678.2,60.4 677.7,60.4 677.2,60.4 676.7,60.4 676.2,60.4 675.7,60.4 675.2,60.4 674.7,60.4 674.2,60.4 673.7,60.4 673.2,60.4 672.7,60.4 672.2,60.4 671.7,60.4 671.2,60.4 670.7,60.4 670.2,60.4 669.7,60.4 669.2,60.4 668.7,60.4 668.2,60.4 667.7,60.4 667.2,60.4 666.7,60.4 666.2,60.4 665.7,60.4 665.2,60.4 664.7,60.4 664.2,60.4 663.7,60.4 663.2,60.4 662.7,60.4 662.2,60.4 661.7,60.4 661.2,60.4 660.7,60.4 660.2,60.4 659.7,60.4 659.2,60.4 658.7,60.4 658.2,60.4 657.7,60.4 657.2,60.4 656.7,60.4 656.2,60.4 655.7,60.4 655.2,60.4 654.7,60.4 654.2,60.4 653.7,60.4 653.2,60.4 652.7,60.4 652.2,60.4 651.7,60.4 651.2,60.4 650.7,60.4 650.2,60.4 649.7,60.4 649.2,60.4 648.7,60.4 648.2,60.4 647.7,60.4 647.2,60.4 646.7,60.4 646.2,60.4 645.7,60.4 645.2,60.4 644.7,60.4 644.2,60.4 643.7,60.4 643.2,60.4 642.7,60.4 642.2,60.4 641.7,60.4 641.2,60.4 640.7,60.4 640.2,60.4 639.7,60.4 639.2,60.4 638.7,60.4 638.2,60.4 637.7,60.4 637.2,60.4 636.7,60.4 636.2,60.4 635.7,60.4 635.2,60.4 634.7,60.4 634.2,60.4 633.7,60.4 633.2,60.4 632.7,60.4 632.2,60.4 631.7,60.4 631.2,60.4 630.7,60.4 630.2,60.4 629.7,60.4 629.2,60.4 628.7,60.4 628.2,60.4 627.7,60.4 627.2,60.4 626.7,60.4 626.2,60.4 625.7,60.4 625.2,60.4 624.7,60.4 624.2,60.4 623.7,60.4 623.2,60.4 622.7,60.4 622.2,60.4 621.7,60.4 621.2,60.4 620.7,60.4 620.2,60.4 619.7,60.4 619.2,60.4 618.7,60.4 618.2,60.4 617.7,60.4 617.2,60.4 616.7,60.4 616.2,60.4 615.7,60.4 615.2,60.4 614.7,60.4 614.2,60.4 613.7,60.4 613.2,60.4 612.7,60.4 612.2,60.4 611.7,60.4 611.2,60.4 610.7,60.4 610.2,60.4 609.7,60.4 609.6,60.4 609.2,60.5 608.7,60.5 608.2,60.6 607.7,60.6 607.6,60.6 607.2,61.5 606.7,62.7 606.2,63.1 606.1,62.8 605.7,64.8 605.2,65.6 605.1,65.0 604.7,74.3 604.6,75.6 604.2,73.5 604.0,76.8 603.7,69.3 603.6,68.6 603.2,65.8 602.7,67.5 602.6,64.4 602.2,65.6 601.7,65.1 601.2,65.2 600.7,65.7 600.2,65.1 599.7,64.0 599.2,65.1 598.7,64.7 598.6,65.5 598.2,65.6 598.1,65.6 597.7,68.4 597.4,70.1 597.2,77.3 596.9,88.3 596.7,88.2 596.2,86.6 595.8,73.7 595.7,71.3 595.2,69.9 594.9,70.4 594.7,71.3 594.4,74.0 594.2,72.9 593.9,67.5 593.7,68.9 593.2,64.5 592.7,67.2 592.6,64.0 592.2,64.8 591.7,64.3 591.2,64.8 590.7,64.3 590.2,63.9 589.7,64.1 589.2,64.7 589.1,64.1 588.7,69.1 588.2,70.1 588.1,69.6 587.7,105.5 587.6,114.4 587.2,114.4 586.7,114.4 586.2,114.4 585.8,114.4 585.7,108.1 585.2,75.6 585.1,68.6 584.7,68.5 584.2,68.2 583.7,67.3 583.2,66.6 582.7,65.2 582.6,67.0 582.2,68.4 581.7,65.9 581.2,66.3 580.7,68.4 580.6,69.5 580.2,72.0 579.7,69.2 579.2,73.2 578.7,69.4 578.2,69.0 577.7,72.2 577.6,70.5 577.2,72.2 576.7,81.6 576.3,78.4 576.2,84.7 575.9,112.5 575.7,112.5 575.2,112.5 574.7,112.5 574.2,112.5 573.9,112.5 573.7,111.4 573.2,74.8 573.1,68.7 572.7,64.8 572.2,63.9 571.7,61.9 571.6,61.5 571.2,61.5 570.7,61.4 570.2,61.4 569.7,61.4 569.2,61.3 568.7,61.3 568.2,61.3 567.7,61.2 567.2,61.2 567.1,61.2 566.7,61.6 566.2,62.1 566.1,62.2 565.7,61.8 565.2,61.3 565.1,61.2 564.7,61.2 564.2,61.2 563.7,61.2 563.2,61.2 562.7,61.2 562.2,61.2 561.7,61.2 561.2,61.2 560.7,61.2 560.2,61.2 559.7,61.2 559.2,61.2 559.1,61.2 558.7,61.6 558.2,62.1 558.1,62.2 557.7,61.8 557.2,61.3 557.1,61.2 556.7,61.2 556.2,61.2 555.7,61.2 555.2,61.2 554.7,61.2 554.2,61.2 553.7,61.2 553.2,61.2 552.7,61.2 552.2,61.2 551.7,61.2 551.2,61.2 550.7,61.2 550.2,61.2 549.7,61.2 549.2,61.2 548.7,61.2 548.2,61.2 547.7,61.2 547.2,61.2 546.7,61.2 546.6,61.2 546.2,61.6 545.7,62.1 545.6,62.2 545.2,61.8 544.7,61.3 544.6,61.2 544.2,61.2 543.7,61.2 543.2,61.2 542.7,61.2 542.2,61.2 541.7,61.2 541.2,61.2 540.7,61.2 540.2,61.2 539.7,61.2 539.2,61.2 538.7,61.2 538.2,61.2 537.7,61.2 537.2,61.2 536.7,61.2 536.2,61.2 535.7,61.2 535.2,61.2 534.7,61.2 534.2,61.2 533.7,61.2 533.2,61.2 532.7,61.2 532.2,61.2 531.7,61.2 531.2,61.2 530.7,61.2 530.2,61.2 529.7,61.2 529.2,61.2 528.7,61.2 528.2,61.2 527.7,61.2 527.2,61.2 526.7,61.2 526.6,61.2 526.2,61.0 525.7,60.7 525.6,60.6 525.2,60.6 524.7,60.6 524.2,60.6 523.7,60.6 523.2,60.6 522.7,60.6 522.2,60.6 521.7,60.6 521.2,60.6 520.7,60.6 520.2,60.6 519.7,60.6 519.2,60.6 518.7,60.6 518.2,60.6 517.7,60.6 517.6,60.6 517.2,61.1 516.9,61.5 516.7,62.2 516.2,65.5 516.1,64.8 515.7,67.9 515.2,70.4 515.1,78.4 514.7,70.1 514.2,70.6 514.1,70.3 513.7,69.8 513.2,69.6 513.1,67.4 512.7,66.3 512.2,65.1 511.7,65.7 511.6,64.1 511.2,65.7 510.7,69.1 510.2,70.6 509.7,67.7 509.6,68.4 509.2,71.8 508.7,72.7 508.6,75.8 508.2,76.5 507.7,82.2 507.6,88.6 507.2,84.5 506.7,87.4 506.6,85.3 506.2,90.8 505.7,89.7 505.2,112.5 504.7,112.5 504.2,112.5 503.7,112.5 503.2,60.6 502.7,60.6 502.2,60.6 501.7,60.6 501.2,60.6 500.7,60.6 500.2,60.6 499.7,60.6 499.2,60.6 498.7,60.6 498.2,60.6 497.7,60.6 497.2,60.6 496.7,60.6 496.2,60.6 495.7,60.6 495.2,60.6 494.7,60.6 494.2,60.6 493.7,60.6 493.6,60.6 493.2,61.2 492.7,61.9 492.6,62.0 492.2,64.5 491.8,66.5 491.7,72.1 491.4,74.2 491.2,108.2 491.1,114.4 490.7,114.4 490.2,114.4 489.7,114.4 489.2,114.4 488.7,114.4 488.6,114.4 488.2,80.5 488.1,77.5 487.7,77.8 487.2,81.5 486.7,79.2 486.6,77.1 486.2,74.9 485.7,77.3 485.2,72.5 484.7,74.1 484.6,73.1 484.2,75.1 483.7,75.8 483.2,71.5 482.7,74.3 482.2,70.2 481.7,70.4 481.6,77.5 481.2,70.4 480.7,69.5 480.2,68.7 479.7,68.3 479.2,69.5 478.7,68.1 478.6,68.6 478.2,71.3 477.7,70.1 477.2,74.3 476.9,72.9 476.7,81.9 476.5,82.1 476.2,112.5 475.7,112.5 475.2,112.5 474.7,112.5 474.2,112.5 473.8,112.5 473.7,107.1 473.2,76.6 472.7,70.2 472.2,62.4 472.1,60.6 471.7,60.6 471.2,60.6 470.7,60.6 470.2,60.6 469.7,60.6 469.2,60.6 468.7,60.6 468.2,60.6 467.7,60.6 467.2,60.6 466.7,60.6 466.2,60.6 465.7,60.6 465.2,60.6 464.7,60.6 464.2,60.6 463.7,60.6 463.2,60.6 462.7,60.6 462.2,60.6 461.7,60.6 461.2,60.6 460.7,60.6 460.2,60.6 459.7,60.6 459.6,60.6 459.2,60.9 458.7,61.2 458.6,61.3 458.2,61.3 457.7,61.3 457.2,61.3 456.7,61.3 456.2,61.3 455.7,61.3 455.2,61.3 454.7,61.3 454.2,61.3 453.7,61.3 453.2,61.3 452.7,61.3 452.2,61.3 451.7,61.3 451.2,61.3 450.7,61.3 450.2,61.3 449.7,61.3 449.2,61.3 448.7,61.3 448.2,61.3 447.7,61.3 447.2,61.3 446.7,61.3 446.2,61.3 445.7,61.3 445.2,61.3 444.7,61.3 444.2,61.3 443.7,61.3 443.2,61.3 442.7,61.3 442.2,61.3 441.7,61.3 441.2,61.3 440.7,61.3 440.2,61.3 439.7,61.3 439.2,61.3 438.7,61.3 438.2,61.3 437.7,61.3 437.2,61.3 436.7,61.3 436.6,61.3 436.2,61.7 435.7,62.1 435.6,62.2 435.2,62.2 434.7,62.2 434.6,62.2 434.2,61.8 433.7,61.3 433.6,61.2 433.2,61.2 432.7,61.2 432.2,61.2 431.7,61.2 431.2,61.2 430.7,61.2 430.2,61.2 429.7,61.2 429.2,61.2 428.7,61.2 428.2,61.2 427.7,61.2 427.6,61.2 427.2,61.1 426.7,61.0 426.2,60.9 425.7,60.9 425.2,60.8 424.7,60.7 424.6,60.6 424.2,61.0 423.7,61.4 423.6,61.5 423.2,61.5 422.7,61.5 422.2,61.5 422.1,61.5 421.7,61.4 421.2,61.3 420.7,61.2 420.2,61.2 419.7,61.1 419.2,61.0 418.7,60.9 418.2,60.8 417.7,60.7 417.2,60.6 417.1,60.6 416.7,61.0 416.6,61.1 416.2,60.7 416.1,60.6 415.7,60.6 415.2,60.6 414.7,60.6 414.2,60.6 414.1,60.6 413.7,60.9 413.2,61.3 413.1,61.4 412.7,61.4 412.2,61.4 411.7,61.4 411.6,61.4 411.2,61.3 410.7,61.2 410.2,61.1 409.7,61.0 409.2,60.9 408.7,60.7 408.2,60.6 408.1,60.6 407.7,61.5 407.6,61.7 407.2,61.7 406.7,61.7 406.2,61.7 406.1,61.7 405.7,60.8 405.6,60.6 405.2,60.6 404.7,60.6 404.2,60.6 403.7,60.6 403.2,60.6 402.7,60.6 402.2,60.6 401.7,60.6 401.2,60.6 400.7,60.6 400.2,60.6 399.7,60.6 399.2,60.6 398.7,60.6 398.2,60.6 397.7,60.6 397.2,60.6 396.7,60.6 396.2,60.6 395.7,60.6 395.2,60.6 394.7,60.6 394.2,60.6 393.7,60.6 393.2,60.6" fill="#4c72b0"/>
<text transform="translate(386.40,10.50) scale(0.84,1)" font-size="10" text-anchor="end" font-family="Liberation Sans" fill="#555555">1.0</text>
<text transform="translate(386.40,38.00) scale(0.84,1)" font-size="10" text-anchor="end" font-family="Liberation Sans" fill="#555555">0.5</text>
<text transform="translate(386.40,64.10) scale(0.84,1)" font-size="10" text-anchor="end" font-family="Liberation Sans" fill="#555555">0.0</text>
<text transform="translate(386.40,91.00) scale(0.84,1)" font-size="10" text-anchor="end" font-family="Liberation Sans" fill="#555555">−0.5</text>
<text transform="translate(386.40,118.00) scale(0.84,1)" font-size="10" text-anchor="end" font-family="Liberation Sans" fill="#555555">−1.0</text>
<text transform="translate(365.20,59.60) rotate(-90) scale(1,1)" font-size="10" text-anchor="middle" font-family="Liberation Sans" fill="#555555">Amplitude</text>
<rect x="393.20" y="135.0" width="290.40" height="116.0" fill="#eeeef5"/>
<rect x="395.20" y="135.0" width="288.30" height="116.0" fill="#000"/>
<text transform="translate(385.80,256.50) scale(0.84,1)" font-size="10" text-anchor="end" font-family="Liberation Sans" fill="#555555">0</text>
<text transform="translate(385.80,233.30) scale(0.84,1)" font-size="10" text-anchor="end" font-family="Liberation Sans" fill="#555555">1000</text>
<text transform="translate(385.80,209.60) scale(0.84,1)" font-size="10" text-anchor="end" font-family="Liberation Sans" fill="#555555">2000</text>
<text transform="translate(385.80,185.90) scale(0.84,1)" font-size="10" text-anchor="end" font-family="Liberation Sans" fill="#555555">3000</text>
<text transform="translate(385.80,162.90) scale(0.84,1)" font-size="10" text-anchor="end" font-family="Liberation Sans" fill="#555555">4000</text>
<text transform="translate(385.80,138.80) scale(0.84,1)" font-size="10" text-anchor="end" font-family="Liberation Sans" fill="#555555">5000</text>
<text transform="translate(393.20,267.50) scale(0.84,1)" font-size="10" text-anchor="middle" font-family="Liberation Sans" fill="#555555">0</text>
<text transform="translate(440.30,267.50) scale(0.84,1)" font-size="10" text-anchor="middle" font-family="Liberation Sans" fill="#555555">1</text>
<text transform="translate(487.40,267.50) scale(0.84,1)" font-size="10" text-anchor="middle" font-family="Liberation Sans" fill="#555555">2</text>
<text transform="translate(534.50,267.50) scale(0.84,1)" font-size="10" text-anchor="middle" font-family="Liberation Sans" fill="#555555">3</text>
<text transform="translate(581.60,267.50) scale(0.84,1)" font-size="10" text-anchor="middle" font-family="Liberation Sans" fill="#555555">4</text>
<text transform="translate(628.70,267.50) scale(0.84,1)" font-size="10" text-anchor="middle" font-family="Liberation Sans" fill="#555555">5</text>
<text transform="translate(675.80,267.50) scale(0.84,1)" font-size="10" text-anchor="middle" font-family="Liberation Sans" fill="#555555">6</text>
<text transform="translate(538.40,280.50) scale(0.84,1)" font-size="10.4" text-anchor="middle" font-family="Liberation Sans" fill="#555555">Time [s]</text>
<text transform="translate(363.20,194.50) rotate(-90) scale(1,1)" font-size="10.6" text-anchor="middle" font-family="Liberation Sans" fill="#555555">Frequency [Hz]</text>
<text transform="translate(538.40,313.50) scale(0.86,1)" font-size="24" text-anchor="middle" font-family="Liberation Serif" fill="#3a3a3a">(b)</text>
</svg>
<div class="sp" style="left:41px"><i style="left:1px;background:linear-gradient(#000000 0px,#090000 109px,#110000 116px)"></i><i style="left:2px;background:linear-gradient(#000000 0px,#070000 105px,#1c0000 114px,#1a0000 116px)"></i><i style="left:3px;background:linear-gradient(#000000 0px,#080000 105px,#210000 113px,#1b0000 116px)"></i><i style="left:4px;background:linear-gradient(#000000 0px,#090000 105px,#2c0000 114px,#2e0000 116px)"></i><i style="left:5px;background:linear-gradient(#000000 0px,#080000 105px,#3a0000 116px)"></i><i style="left:6px;background:linear-gradient(#000000 0px,#080000 105px,#300000 116px)"></i><i style="left:7px;background:linear-gradient(#000000 0px,#070000 105px,#230000 114px,#220000 116px)"></i><i style="left:8px;background:linear-gradient(#000000 0px,#060000 105px,#230000 114px,#230000 116px)"></i><i style="left:9px;background:linear-gradient(#020000 0px,#080000 105px,#290000 114px,#290000 116px)"></i><i style="left:10px;background:linear-gradient(#190000 0px,#300000 16px,#3a0000 41px,#280000 66px,#270000 101px,#230000 111px,#220000 116px)"></i><i style="left:11px;background:linear-gradient(#070000 0px,#0e0000 109px,#140000 116px)"></i><i style="left:12px;background:linear-gradient(#000000 0px,#070000 106px,#250000 116px)"></i><i style="left:13px;background:linear-gradient(#000000 0px,#070000 105px,#2f0000 116px)"></i><i style="left:14px;background:linear-gradient(#000000 0px,#070000 105px,#200000 116px)"></i><i style="left:15px;background:linear-gradient(#000000 0px,#090000 107px,#1e0000 116px)"></i><i style="left:16px;background:linear-gradient(#000000 0px,#070000 105px,#2b0000 116px)"></i><i style="left:17px;background:linear-gradient(#000000 0px,#090000 105px,#290000 116px)"></i><i style="left:18px;background:linear-gradient(#000000 0px,#0a0000 106px,#1e0000 116px)"></i><i style="left:19px;background:linear-gradient(#000000 0px,#1e0000 114px,#210000 116px)"></i><i style="left:20px;background:linear-gradient(#000000 0px,#090000 107px,#220000 116px)"></i><i style="left:21px;background:linear-gradient(#000000 0px,#070000 105px,#1f0000 116px)"></i><i style="left:22px;background:linear-gradient(#000000 0px,#070000 105px,#1d0000 116px)"></i><i style="left:23px;background:linear-gradient(#000000 0px,#080000 107px,#240000 116px)"></i><i style="left:24px;background:linear-gradient(#000000 0px,#080000 107px,#230000 116px)"></i><i style="left:25px;background:linear-gradient(#030000 0px,#0a0000 109px,#160000 116px)"></i><i style="left:26px;background:linear-gradient(#1c0000 0px,#310000 37px,#5e0000 50px,#200000 67px,#240000 116px)"></i><i style="left:27px;background:linear-gradient(#0f0000 0px,#220000 37px,#410000 47px,#130000 68px,#140000 116px)"></i><i style="left:28px;background:linear-gradient(#000000 0px,#080000 106px,#110000 116px)"></i><i style="left:29px;background:linear-gradient(#000000 0px,#0a0000 108px,#190000 116px)"></i><i style="left:30px;background:linear-gradient(#000000 0px,#090000 108px,#170000 116px)"></i><i style="left:31px;background:linear-gradient(#000000 0px,#0e0000 109px,#130000 116px)"></i><i style="left:32px;background:linear-gradient(#000000 0px,#0a0000 38px,#0f0000 64px,#190000 82px,#110000 94px,#260000 106px,#150000 116px)"></i><i style="left:33px;background:linear-gradient(#000000 0px,#090000 33px,#220000 54px,#160000 64px,#480000 77px,#1a0000 90px,#430000 104px,#3a0000 116px)"></i><i style="left:34px;background:linear-gradient(#010000 0px,#090000 33px,#230000 46px,#550000 54px,#430000 66px,#5c0000 79px,#330000 90px,#730000 101px,#5c0000 106px,#4d0000 116px)"></i><i style="left:35px;background:linear-gradient(#070000 0px,#100000 38px,#2b0000 47px,#6f0000 55px,#570000 66px,#820200 78px,#580000 87px,#490000 90px,#7f0000 95px,#b93a00 101px,#be3e00 103px,#7d0000 109px,#550000 116px)"></i><i style="left:36px;background:linear-gradient(#370000 0px,#3d0000 20px,#100000 39px,#260000 46px,#790000 55px,#6e0000 59px,#310000 66px,#530000 72px,#890a00 78px,#9c1c00 82px,#700000 90px,#bc3d00 98px,#c54500 103px,#750000 115px,#6a0000 116px)"></i><i style="left:37px;background:linear-gradient(#6a0000 0px,#8a0b00 10px,#890a00 17px,#460000 26px,#120000 44px,#780000 56px,#680000 61px,#280000 69px,#3e0000 75px,#7e0000 82px,#6f0000 88px,#5f0000 90px,#880900 96px,#a32400 104px,#6a0000 113px,#4d0000 116px)"></i><i style="left:38px;background:linear-gradient(#730000 0px,#921300 6px,#b63600 14px,#800000 25px,#4c0000 35px,#190000 43px,#340000 49px,#5f0000 57px,#410000 74px,#540000 83px,#330000 91px,#720000 101px,#830300 105px,#750000 111px,#400000 116px)"></i><i style="left:39px;background:linear-gradient(#8d0d00 0px,#8e0f00 9px,#a02100 17px,#7b0000 23px,#290000 40px,#430000 48px,#710000 55px,#490000 68px,#8a0a00 79px,#5c0000 85px,#330000 90px,#730000 98px,#a62700 104px,#860600 111px,#500000 116px)"></i><i style="left:40px;background:linear-gradient(#a62700 0px,#7e0000 9px,#6b0000 18px,#270000 36px,#3c0000 44px,#410000 55px,#590000 66px,#880800 78px,#740000 82px,#3e0000 89px,#4f0000 92px,#7b0000 95px,#df5f00 102px,#e36300 104px,#8d0e00 112px,#720000 114px,#5a0000 116px)"></i><i style="left:41px;background:linear-gradient(#a02000 0px,#7f0000 15px,#610000 25px,#2d0000 34px,#520000 45px,#570000 61px,#820200 69px,#3e0000 89px,#560000 92px,#860600 95px,#bc3c00 99px,#cb4c00 103px,#a32400 109px,#7c0000 115px,#710000 116px)"></i><i style="left:42px;background:linear-gradient(#7e0000 0px,#880800 8px,#af3000 16px,#c84900 20px,#a92900 26px,#7a0000 30px,#3c0000 38px,#880800 46px,#9f1f00 51px,#931300 61px,#9d1e00 69px,#680000 76px,#380000 82px,#480000 90px,#880900 94px,#c64600 98px,#cd4e00 103px,#820300 108px,#600000 116px)"></i><i style="left:43px;background:linear-gradient(#ac2d00 0px,#961600 7px,#ce4f00 17px,#aa2b00 26px,#7b0000 30px,#330000 38px,#880900 49px,#9b1b00 60px,#c54500 68px,#a62700 73px,#800000 76px,#530000 82px,#480000 90px,#7c0000 94px,#c04100 99px,#c84800 103px,#7f0000 107px,#460000 112px,#430000 116px)"></i><i style="left:44px;background:linear-gradient(#bd3e00 0px,#800100 9px,#9a1a00 14px,#c44400 18px,#af2f00 23px,#800100 26px,#440000 29px,#2c0000 36px,#4e0000 44px,#600000 55px,#860700 60px,#bb3b00 67px,#aa2b00 73px,#7d0000 82px,#4a0000 90px,#890900 96px,#9b1b00 102px,#760000 107px,#400000 116px)"></i><i style="left:45px;background:linear-gradient(#ab2b00 0px,#730000 10px,#810100 15px,#9f2000 19px,#901000 25px,#6c0000 27px,#2a0000 31px,#500000 55px,#8a0b00 62px,#9b1b00 67px,#6d0000 74px,#530000 87px,#440000 90px,#800000 96px,#c14200 103px,#931300 110px,#6f0000 113px,#510000 116px)"></i><i style="left:46px;background:linear-gradient(#a42500 0px,#740000 9px,#800000 14px,#9c1c00 18px,#8f0f00 25px,#570000 29px,#340000 40px,#570000 52px,#6f0000 59px,#991a00 66px,#7b0000 81px,#380000 90px,#720000 98px,#8d0e00 100px,#c04000 103px,#b53600 108px,#7a0000 113px,#590000 116px)"></i><i style="left:47px;background:linear-gradient(#9b1c00 0px,#911100 13px,#971700 18px,#770000 26px,#4c0000 30px,#3c0000 39px,#870700 50px,#650000 64px,#8d0d00 70px,#aa2b00 77px,#981800 81px,#780000 84px,#450000 90px,#870800 99px,#bb3c00 104px,#ab2b00 109px,#6e0000 114px,#560000 116px)"></i><i style="left:48px;background:linear-gradient(#9a1b00 0px,#a22200 10px,#740000 24px,#410000 30px,#2a0000 39px,#510000 47px,#3c0000 59px,#370000 64px,#7f0000 70px,#b93a00 76px,#be3e00 80px,#780000 86px,#520000 90px,#870800 95px,#a72700 99px,#ac2d00 104px,#971700 112px,#6b0000 116px)"></i><i style="left:49px;background:linear-gradient(#921200 0px,#8f0f00 13px,#810200 16px,#620000 25px,#470000 28px,#190000 38px,#1e0000 47px,#300000 54px,#4c0000 65px,#870800 72px,#b63700 80px,#800000 86px,#4f0000 90px,#730000 99px,#5e0000 109px,#4b0000 116px)"></i><i style="left:50px;background:linear-gradient(#4e0000 0px,#880800 10px,#941500 18px,#6b0000 25px,#2c0000 34px,#2e0000 39px,#520000 58px,#590000 65px,#890a00 73px,#b83800 81px,#8b0c00 86px,#500000 90px,#4d0000 99px,#660000 104px,#2e0000 116px)"></i><i style="left:51px;background:linear-gradient(#490000 0px,#780000 10px,#a02000 17px,#780000 23px,#410000 36px,#310000 38px,#860700 52px,#961700 58px,#700000 64px,#540000 70px,#7e0000 76px,#af3000 81px,#9b1b00 85px,#800000 87px,#4e0000 90px,#450000 96px,#7b0000 100px,#b13200 103px,#a82900 107px,#780000 111px,#3c0000 116px)"></i><i style="left:52px;background:linear-gradient(#730000 0px,#5d0000 14px,#630000 33px,#3a0000 38px,#680000 46px,#860600 53px,#a52500 59px,#810200 64px,#410000 70px,#4c0000 75px,#890900 80px,#981900 84px,#5e0000 90px,#7f0000 99px,#b13100 104px,#aa2a00 109px,#700000 114px,#590000 116px)"></i><i style="left:53px;background:linear-gradient(#740000 0px,#6f0000 11px,#490000 19px,#740000 29px,#520000 36px,#400000 38px,#720000 45px,#870700 53px,#bd3e00 60px,#a32300 65px,#7a0000 68px,#370000 74px,#3e0000 79px,#660000 86px,#5b0000 90px,#8b0c00 95px,#a32300 103px,#a02100 111px,#710000 116px)"></i><i style="left:54px;background:linear-gradient(#430000 0px,#490000 7px,#5f0000 17px,#4c0000 34px,#330000 38px,#690000 46px,#880800 56px,#8e0e00 61px,#560000 67px,#2e0000 73px,#490000 79px,#650000 85px,#530000 90px,#850600 94px,#b83800 98px,#ca4a00 103px,#760000 115px,#6d0000 116px)"></i><i style="left:55px;background:linear-gradient(#6b0000 0px,#320000 9px,#5d0000 19px,#330000 37px,#730000 48px,#6e0000 65px,#4a0000 72px,#770000 79px,#7e0000 83px,#3f0000 90px,#5f0000 96px,#860600 99px,#c54500 103px,#bc3d00 109px,#790000 115px,#6e0000 116px)"></i><i style="left:56px;background:linear-gradient(#6b0000 0px,#330000 11px,#500000 22px,#420000 35px,#3a0000 37px,#880900 44px,#961700 50px,#7c0000 56px,#7c0000 64px,#2d0000 72px,#460000 77px,#600000 81px,#360000 89px,#400000 96px,#7c0000 101px,#ae2e00 104px,#c94a00 109px,#9e1e00 115px,#921200 116px)"></i><i style="left:57px;background:linear-gradient(#530000 0px,#440000 7px,#810200 17px,#480000 27px,#350000 37px,#800000 45px,#640000 51px,#5b0000 55px,#7e0000 62px,#4d0000 73px,#830400 82px,#630000 88px,#510000 90px,#870800 101px,#a62700 106px,#a42400 111px,#710000 116px)"></i><i style="left:58px;background:linear-gradient(#5c0000 0px,#6d0000 17px,#210000 35px,#770000 46px,#5d0000 55px,#870800 60px,#b23200 67px,#a02000 78px,#a02100 82px,#750000 87px,#540000 90px,#890a00 97px,#be3f00 103px,#770000 113px,#5b0000 116px)"></i><i style="left:59px;background:linear-gradient(#320000 0px,#290000 16px,#0e0000 32px,#850500 48px,#740000 61px,#921300 67px,#9d1e00 75px,#a42500 81px,#6f0000 87px,#4e0000 90px,#870700 100px,#991a00 104px,#700000 111px,#520000 116px)"></i><i style="left:60px;background:linear-gradient(#0a0000 0px,#0a0000 32px,#4b0000 50px,#3a0000 65px,#660000 80px,#480000 90px,#610000 96px,#390000 107px,#470000 116px)"></i><i style="left:61px;background:linear-gradient(#010000 0px,#0c0000 45px,#200000 55px,#210000 63px,#350000 72px,#270000 82px,#3b0000 91px,#4d0000 96px,#1c0000 106px,#410000 116px)"></i><i style="left:62px;background:linear-gradient(#000000 0px,#0d0000 49px,#120000 89px,#1d0000 114px,#190000 116px)"></i><i style="left:63px;background:linear-gradient(#000000 0px,#050000 116px)"></i><i style="left:77px;background:linear-gradient(#550000 0px,#760000 12px,#7e0000 19px,#3e0000 33px,#420000 47px,#7e0000 57px,#7d0000 82px,#911100 101px,#740000 115px,#710000 116px)"></i><i style="left:78px;background:linear-gradient(#ffae2e 0px,#ffb737 19px,#ffce4f 31px,#ffc445 48px,#ffea6b 62px,#ffff86 71px,#fff575 97px,#ffff85 109px,#fffc7c 116px)"></i><i style="left:79px;background:linear-gradient(#ffa324 0px,#ffa627 20px,#ffcf4f 46px,#ffdf60 60px,#ffff80 74px,#ffdf5f 91px,#ffff80 98px,#ffff83 108px,#ffef6f 116px)"></i><i style="left:80px;background:linear-gradient(#ea6a00 0px,#f87800 16px,#ae2e00 27px,#a72700 44px,#f17200 56px,#ed6e00 67px,#ff9112 73px,#ff8909 86px,#ffbc3c 92px,#ffeb6c 97px,#ffd556 104px,#ffb030 116px)"></i><i style="left:81px;background:linear-gradient(#eb6c00 0px,#ed6e00 6px,#b83900 15px,#a02000 27px,#e16100 38px,#f77700 46px,#ff9919 52px,#f87900 57px,#d95900 62px,#ff8505 72px,#ef6f00 82px,#ff8c0c 85px,#fffc7c 91px,#ffffaa 95px,#ffff8f 99px,#ffee6e 101px,#ff9a1a 107px,#ff9919 112px,#ffad2d 116px)"></i><i style="left:82px;background:linear-gradient(#a52600 0px,#af3000 6px,#7a0000 14px,#890a00 22px,#ff8000 37px,#ff8a0b 48px,#f07000 52px,#951500 61px,#a52600 67px,#c74700 75px,#c94900 82px,#ff8606 87px,#ffc94a 92px,#ffc545 96px,#f97900 102px,#b73700 108px,#bc3c00 113px,#d05100 116px)"></i><i style="left:83px;background:linear-gradient(#880900 0px,#5c0000 31px,#760000 44px,#8c0c00 53px,#730000 61px,#880900 64px,#d85900 73px,#d75700 80px,#dc5c00 86px,#ee6f00 92px,#7f0000 105px,#730000 109px,#890900 112px,#ae2f00 116px)"></i><i style="left:84px;background:linear-gradient(#a02100 0px,#b53500 14px,#850500 22px,#370000 30px,#400000 44px,#800000 55px,#e76800 64px,#ff8e0f 67px,#ffa526 72px,#ff8606 76px,#b83800 82px,#bd3e00 87px,#d85800 95px,#b53600 104px,#a72700 109px,#d15100 116px)"></i><i style="left:85px;background:linear-gradient(#d45500 0px,#d35300 8px,#c34400 14px,#770000 23px,#340000 31px,#550000 44px,#7d0000 52px,#d55500 58px,#fb7b00 60px,#ffa92a 66px,#ffa223 74px,#fb7c00 77px,#860700 84px,#7e0000 89px,#cc4c00 101px,#ea6b00 108px,#ff8b0b 111px,#ff9c1d 116px)"></i><i style="left:86px;background:linear-gradient(#ba3b00 0px,#860700 16px,#330000 27px,#340000 32px,#570000 45px,#670000 51px,#890900 54px,#f77800 61px,#ffb030 73px,#ffa021 76px,#ff7f00 78px,#880800 84px,#750000 88px,#8d0d00 91px,#d15100 98px,#ff8202 114px,#fb7b00 116px)"></i><i style="left:87px;background:linear-gradient(#be3e00 0px,#931300 8px,#7d0000 17px,#2c0000 29px,#6f0000 53px,#8f0f00 56px,#e16200 62px,#ff8404 67px,#ffae2e 75px,#f97a00 84px,#eb6b00 94px,#f57500 104px,#ff9718 112px,#ff8405 116px)"></i><i style="left:88px;background:linear-gradient(#c84800 0px,#ae2e00 12px,#7a0000 20px,#2b0000 30px,#470000 40px,#7f0000 49px,#c64600 62px,#de5e00 69px,#ff8102 72px,#ffad2d 77px,#ffa324 85px,#fa7a00 89px,#cb4c00 94px,#f67600 105px,#ff8b0c 116px)"></i><i style="left:89px;background:linear-gradient(#d05000 0px,#ce4f00 8px,#7a0000 18px,#460000 30px,#840500 42px,#ba3b00 52px,#f47400 60px,#f77800 70px,#ff8808 76px,#cd4d00 88px,#901000 94px,#a42500 99px,#cb4b00 106px,#f17200 113px,#ff8b0c 116px)"></i><i style="left:90px;background:linear-gradient(#ff7f00 0px,#f77700 5px,#bd3d00 12px,#c84900 21px,#b23300 30px,#cb4b00 39px,#ff8909 51px,#ffc243 57px,#ffad2d 61px,#ff8607 65px,#ffa627 73px,#ff9a1a 86px,#ff9010 93px,#ffbb3b 104px,#ffb738 114px,#ffc747 116px)"></i><i style="left:91px;background:linear-gradient(#ff7f00 0px,#ff8708 6px,#e86800 12px,#ff8607 18px,#ee6f00 24px,#ee6e00 30px,#ff8f10 36px,#ff8000 41px,#ee6f00 45px,#f97a00 50px,#ffb636 56px,#ffaa2b 59px,#ff9c1d 60px,#ffbb3c 68px,#ffaa2a 76px,#ffd758 84px,#ffaf30 94px,#ffc848 104px,#ffc747 115px,#ffc445 116px)"></i><i style="left:92px;background:linear-gradient(#e66600 0px,#d35400 4px,#dc5d00 13px,#ee6f00 22px,#ff8707 39px,#e66700 48px,#ff8707 53px,#ffb536 57px,#ffa627 61px,#ff8102 65px,#fc7d00 72px,#ffd050 83px,#ffb535 105px,#ffef70 112px,#ffd858 116px)"></i><i style="left:93px;background:linear-gradient(#e36300 0px,#b23300 6px,#cd4d00 13px,#ff8505 21px,#ffb334 31px,#f57500 44px,#f57600 51px,#ff8909 54px,#ffb738 58px,#ff9f1f 63px,#ff8102 67px,#ffb333 77px,#ffca4b 81px,#ffa626 87px,#ffbd3d 95px,#ffcc4d 102px,#ffcc4c 107px,#fff071 113px,#ffd556 116px)"></i><i style="left:94px;background:linear-gradient(#c14100 0px,#ab2b00 10px,#e06000 19px,#e16100 26px,#fa7b00 35px,#ec6c00 51px,#f87800 62px,#ee6e00 67px,#ed6d00 70px,#ff8c0d 76px,#ffd758 81px,#ffd252 85px,#ff9314 92px,#ffca4a 100px,#ffbb3c 103px,#ff8808 109px,#ff9616 116px)"></i><i style="left:95px;background:linear-gradient(#8a0b00 0px,#810100 9px,#610000 24px,#880900 41px,#9c1d00 49px,#800100 59px,#901100 67px,#870700 76px,#a72800 88px,#890a00 109px,#af3000 116px)"></i><i style="left:96px;background:linear-gradient(#070000 0px,#0c0000 92px,#5b0000 103px,#3d0000 116px)"></i><i style="left:97px;background:linear-gradient(#000000 0px,#0a0000 75px,#070000 91px,#6a0000 103px,#5b0000 112px,#470000 116px)"></i><i style="left:98px;background:linear-gradient(#000000 0px,#090000 71px,#3c0000 77px,#000000 86px,#150000 96px,#370000 105px,#240000 116px)"></i><i style="left:99px;background:linear-gradient(#000000 0px,#000000 70px,#4c0000 77px,#000000 85px,#020000 116px)"></i><i style="left:100px;background:linear-gradient(#000000 0px,#000000 70px,#550000 77px,#000000 85px,#000000 116px)"></i><i style="left:101px;background:linear-gradient(#000000 0px,#080000 71px,#470000 77px,#000000 86px,#000000 116px)"></i><i style="left:102px;background:linear-gradient(#000000 0px,#080000 74px,#000000 116px)"></i><i style="left:107px;background:linear-gradient(#480000 0px,#650000 13px,#4c0000 24px,#5b0000 44px,#670000 52px,#5c0000 61px,#7a0000 91px,#6d0000 102px,#600000 116px)"></i><i style="left:108px;background:linear-gradient(#ffa727 0px,#ffb636 18px,#ffcc4d 47px,#ffff8c 65px,#ffff83 76px,#ffef70 87px,#ffff8a 108px,#ffff7f 116px)"></i><i style="left:109px;background:linear-gradient(#d25200 0px,#ff8708 7px,#ff9b1c 13px,#fb7c00 19px,#991900 27px,#a92a00 42px,#e16100 50px,#ff9112 54px,#ffbd3e 60px,#ff9f20 65px,#f37400 69px,#b53500 80px,#bd3d00 90px,#d55600 95px,#d55600 101px,#ff8203 107px,#ff9a1b 116px)"></i><i style="left:110px;background:linear-gradient(#d55600 0px,#ff8304 5px,#ff8909 10px,#c34300 21px,#951600 26px,#a72700 30px,#fe7e00 37px,#ff8d0d 41px,#f67700 44px,#c34300 49px,#d05100 53px,#ff8505 57px,#ffae2e 62px,#ff8b0b 67px,#db5b00 71px,#7a0000 82px,#7c0000 86px,#d95a00 94px,#ff8000 97px,#ffb536 103px,#ffac2c 109px,#ff9818 115px,#ff9d1d 116px)"></i><i style="left:111px;background:linear-gradient(#df5f00 0px,#c34300 9px,#b53500 15px,#bb3b00 22px,#b63700 27px,#ff8809 35px,#ff9b1c 40px,#fc7c00 43px,#951600 49px,#890a00 53px,#d05100 59px,#fd7e00 63px,#f77700 68px,#a22300 79px,#9b1b00 88px,#c44500 93px,#ff8102 96px,#ffe161 101px,#fff171 106px,#ffb536 116px)"></i><i style="left:112px;background:linear-gradient(#df5f00 0px,#931300 14px,#a12200 26px,#f27200 39px,#c04100 52px,#de5f00 58px,#ff890a 62px,#ff9010 66px,#eb6b00 72px,#ff8001 86px,#ff8000 92px,#ffd152 101px,#ffb435 116px)"></i><i style="left:113px;background:linear-gradient(#7e0000 0px,#470000 19px,#740000 26px,#7f0000 38px,#7b0000 53px,#680000 61px,#7a0000 77px,#7f0000 84px,#a12100 93px,#931300 102px,#b63700 106px,#ae2e00 116px)"></i><i style="left:114px;background:linear-gradient(#490000 0px,#4d0000 14px,#850500 19px,#cd4d00 25px,#e36400 36px,#b23300 43px,#a02000 46px,#b13100 54px,#8c0d00 63px,#a02100 75px,#9e1e00 82px,#da5b00 94px,#ff8606 99px,#ffee6e 105px,#ffe465 110px,#ffb333 116px)"></i><i style="left:115px;background:linear-gradient(#500000 0px,#560000 12px,#6d0000 16px,#9d1d00 20px,#db5c00 26px,#dc5d00 34px,#951600 43px,#951600 47px,#941400 53px,#720000 60px,#901100 70px,#981900 82px,#ff7f00 92px,#ffcf50 106px,#ffd353 116px)"></i><i style="left:116px;background:linear-gradient(#4c0000 0px,#5d0000 10px,#7b0000 16px,#e36300 27px,#ea6a00 33px,#c14200 37px,#820200 45px,#981900 62px,#aa2a00 73px,#971800 80px,#dd5d00 86px,#ff8405 89px,#ff8d0d 93px,#f37400 99px,#ff9011 107px,#ffbc3c 116px)"></i><i style="left:117px;background:linear-gradient(#550000 0px,#6b0000 15px,#8d0e00 18px,#f77800 26px,#ff8102 32px,#e26200 36px,#830400 43px,#730000 47px,#8a0a00 53px,#c94a00 65px,#cc4c00 73px,#b03000 81px,#ff8101 89px,#fd7e00 94px,#ff8202 98px,#ffd859 104px,#ffee6e 106px,#ffe363 116px)"></i><i style="left:118px;background:linear-gradient(#580000 0px,#580000 15px,#850600 19px,#db5c00 26px,#e96a00 33px,#d45400 36px,#790000 43px,#660000 47px,#860700 53px,#c44400 60px,#bf3f00 73px,#941500 82px,#c74800 92px,#fb7b00 96px,#fff778 101px,#ffffb7 105px,#fff879 111px,#ffe969 116px)"></i><i style="left:119px;background:linear-gradient(#460000 0px,#4d0000 16px,#8a0b00 28px,#800100 36px,#660000 46px,#931400 59px,#820300 69px,#981800 76px,#760000 83px,#7f0000 89px,#c54500 95px,#ff8606 98px,#ffd152 103px,#ffdb5c 105px,#ffa526 112px,#ffa222 116px)"></i><i style="left:120px;background:linear-gradient(#120000 0px,#190000 37px,#1d0000 62px,#2b0000 93px,#4b0000 107px,#4b0000 116px)"></i><i style="left:129px;background:linear-gradient(#0b0000 0px,#180000 86px,#0f0000 113px,#110000 116px)"></i><i style="left:130px;background:linear-gradient(#180000 0px,#1f0000 28px,#3d0000 44px,#2d0000 66px,#420000 92px,#080000 105px,#1d0000 114px,#250000 116px)"></i><i style="left:131px;background:linear-gradient(#0e0000 0px,#050000 12px,#270000 22px,#3c0000 29px,#640000 40px,#590000 53px,#540000 60px,#2f0000 70px,#360000 90px,#4b0000 99px,#0c0000 110px,#150000 116px)"></i><i style="left:132px;background:linear-gradient(#2c0000 0px,#100000 8px,#440000 19px,#3f0000 28px,#690000 42px,#770000 47px,#320000 65px,#120000 74px,#270000 84px,#220000 91px,#7e0000 102px,#7c0000 108px,#5c0000 115px,#520000 116px)"></i><i style="left:133px;background:linear-gradient(#520000 0px,#490000 9px,#4d0000 19px,#4e0000 36px,#890a00 47px,#180000 75px,#340000 92px,#840400 104px,#ac2c00 111px,#8f0f00 116px)"></i><i style="left:134px;background:linear-gradient(#530000 0px,#4a0000 26px,#800000 42px,#a82800 47px,#981900 54px,#6c0000 60px,#240000 76px,#310000 84px,#530000 94px,#510000 103px,#860700 109px,#931400 114px,#8b0c00 116px)"></i><i style="left:135px;background:linear-gradient(#4e0000 0px,#3e0000 10px,#2f0000 19px,#530000 27px,#750000 34px,#6b0000 43px,#8f0f00 53px,#640000 66px,#560000 84px,#890a00 97px,#ae2e00 106px,#820200 116px)"></i><i style="left:136px;background:linear-gradient(#4f0000 0px,#410000 7px,#1e0000 14px,#600000 28px,#710000 35px,#590000 45px,#7f0000 57px,#720000 68px,#6c0000 80px,#660000 87px,#8c0c00 92px,#c14200 99px,#b13100 106px,#830300 114px,#800100 116px)"></i><i style="left:137px;background:linear-gradient(#4b0000 0px,#410000 8px,#360000 15px,#6e0000 39px,#921300 47px,#840400 56px,#460000 66px,#540000 75px,#870700 89px,#a32300 96px,#7a0000 114px,#7a0000 116px)"></i><i style="left:138px;background:linear-gradient(#4e0000 0px,#540000 10px,#4b0000 28px,#5a0000 37px,#870700 42px,#901100 46px,#6e0000 52px,#230000 63px,#000000 69px,#100000 74px,#870700 87px,#a82900 93px,#840500 99px,#670000 104px,#7e0000 116px)"></i><i style="left:139px;background:linear-gradient(#5f0000 0px,#640000 7px,#3f0000 18px,#480000 33px,#3a0000 41px,#550000 53px,#4e0000 62px,#2e0000 70px,#6d0000 82px,#9d1e00 89px,#b83800 96px,#7c0000 103px,#6f0000 109px,#8c0d00 114px,#961700 116px)"></i><i style="left:140px;background:linear-gradient(#5d0000 0px,#430000 8px,#210000 16px,#360000 31px,#2a0000 40px,#7e0000 51px,#640000 79px,#870700 85px,#db5c00 96px,#af2f00 102px,#8b0b00 108px,#991900 116px)"></i><i style="left:141px;background:linear-gradient(#420000 0px,#250000 31px,#4d0000 43px,#780000 51px,#630000 61px,#8e0e00 70px,#6f0000 81px,#8a0b00 87px,#cd4d00 95px,#b83800 100px,#7a0000 106px,#6f0000 116px)"></i><i style="left:142px;background:linear-gradient(#270000 0px,#340000 8px,#3b0000 15px,#060000 24px,#200000 31px,#5a0000 39px,#5c0000 56px,#530000 66px,#440000 81px,#760000 89px,#ab2b00 95px,#981800 100px,#710000 104px,#570000 111px,#430000 116px)"></i><i style="left:143px;background:linear-gradient(#1e0000 0px,#180000 6px,#3d0000 14px,#070000 24px,#250000 30px,#750000 39px,#550000 58px,#300000 67px,#530000 81px,#880800 93px,#951600 102px,#840500 109px,#3b0000 116px)"></i><i style="left:144px;background:linear-gradient(#350000 0px,#350000 8px,#440000 16px,#2f0000 26px,#6e0000 47px,#4c0000 57px,#410000 65px,#690000 83px,#931300 90px,#b03100 100px,#8f0f00 109px,#5d0000 116px)"></i><i style="left:145px;background:linear-gradient(#420000 0px,#750000 7px,#b83900 16px,#ae2f00 21px,#790000 27px,#720000 32px,#8e0f00 36px,#d25200 46px,#c64600 54px,#981900 63px,#981800 71px,#6d0000 76px,#650000 86px,#961600 94px,#a42400 106px,#6e0000 116px)"></i><i style="left:146px;background:linear-gradient(#6c0000 0px,#931400 12px,#a62700 23px,#870700 32px,#d85800 46px,#ae2e00 55px,#8a0a00 62px,#921200 71px,#7f0000 75px,#780000 83px,#ad2d00 91px,#7e0000 106px,#961700 111px,#7e0000 116px)"></i><i style="left:147px;background:linear-gradient(#670000 0px,#870700 17px,#961700 25px,#941400 33px,#d55600 45px,#931300 74px,#860600 81px,#9e1f00 92px,#730000 98px,#770000 104px,#780000 116px)"></i><i style="left:148px;background:linear-gradient(#6a0000 0px,#870700 18px,#870800 28px,#901000 37px,#b73800 47px,#a62600 58px,#d65700 68px,#a32300 76px,#8d0d00 82px,#911200 93px,#b53500 99px,#b43500 107px,#7c0000 116px)"></i><i style="left:149px;background:linear-gradient(#6d0000 0px,#9a1a00 8px,#a32400 18px,#d65700 33px,#c14200 43px,#cd4e00 51px,#820300 60px,#a12100 70px,#901100 78px,#af3000 86px,#ab2b00 96px,#c14100 105px,#931400 110px,#a52600 116px)"></i><i style="left:150px;background:linear-gradient(#520000 0px,#500000 7px,#6d0000 37px,#6e0000 43px,#6f0000 59px,#6a0000 78px,#590000 82px,#700000 89px,#710000 93px,#a72800 100px,#a32400 106px,#880800 116px)"></i><i style="left:151px;background:linear-gradient(#420000 0px,#360000 28px,#6c0000 46px,#580000 54px,#860700 63px,#3d0000 75px,#540000 83px,#890a00 89px,#9c1d00 96px,#941400 107px,#730000 115px,#6f0000 116px)"></i><i style="left:152px;background:linear-gradient(#360000 0px,#600000 17px,#470000 27px,#6e0000 45px,#550000 54px,#880800 62px,#710000 66px,#250000 73px,#2d0000 79px,#820200 87px,#aa2a00 92px,#750000 108px,#590000 116px)"></i><i style="left:153px;background:linear-gradient(#2a0000 0px,#5c0000 16px,#3f0000 27px,#4d0000 44px,#590000 52px,#490000 65px,#2a0000 72px,#830400 95px,#460000 114px,#440000 116px)"></i><i style="left:154px;background:linear-gradient(#370000 0px,#420000 18px,#330000 28px,#150000 41px,#400000 50px,#300000 60px,#3c0000 71px,#6c0000 79px,#3e0000 89px,#6b0000 98px,#520000 109px,#5a0000 116px)"></i><i style="left:155px;background:linear-gradient(#3f0000 0px,#200000 12px,#2f0000 23px,#360000 36px,#2e0000 46px,#5c0000 61px,#620000 69px,#890a00 77px,#570000 88px,#530000 95px,#250000 102px,#680000 116px)"></i><i style="left:156px;background:linear-gradient(#4b0000 0px,#460000 14px,#6d0000 33px,#840400 40px,#6c0000 50px,#860600 61px,#630000 78px,#580000 84px,#790000 92px,#2f0000 103px,#5e0000 114px,#550000 116px)"></i><i style="left:157px;background:linear-gradient(#760000 0px,#a62700 9px,#d25200 26px,#e76800 33px,#ff8c0c 37px,#ff9919 42px,#ff8101 45px,#c04100 50px,#ad2d00 64px,#790000 73px,#660000 81px,#7b0000 100px,#800100 112px,#560000 116px)"></i><i style="left:158px;background:linear-gradient(#9d1d00 0px,#e06000 7px,#d65600 12px,#a92a00 19px,#cd4d00 26px,#f27300 33px,#e76700 40px,#890900 50px,#790000 64px,#6c0000 80px,#901000 92px,#9f2000 101px,#b43400 106px,#740000 115px,#6b0000 116px)"></i><i style="left:159px;background:linear-gradient(#bf4000 0px,#cb4c00 8px,#911100 21px,#cd4e00 33px,#b33300 39px,#760000 45px,#5b0000 51px,#5c0000 65px,#520000 73px,#810100 84px,#730000 94px,#901100 99px,#b73800 105px,#7c0000 113px,#6d0000 116px)"></i><i style="left:160px;background:linear-gradient(#ca4a00 0px,#a02100 10px,#c14100 21px,#9e1f00 38px,#ad2d00 46px,#7a0000 52px,#6a0000 60px,#740000 72px,#941500 79px,#770000 88px,#730000 96px,#620000 100px,#8d0d00 108px,#770000 116px)"></i><i style="left:161px;background:linear-gradient(#aa2b00 0px,#760000 6px,#650000 12px,#870700 18px,#be3f00 28px,#b73800 45px,#790000 53px,#6f0000 58px,#ba3b00 65px,#b33400 72px,#770000 81px,#5d0000 87px,#8d0e00 101px,#b03000 108px,#961600 113px,#770000 116px)"></i><i style="left:162px;background:linear-gradient(#460000 0px,#4f0000 14px,#400000 19px,#880900 30px,#740000 42px,#560000 50px,#850500 60px,#a52500 68px,#710000 79px,#6d0000 85px,#880800 89px,#a62600 95px,#740000 115px,#6e0000 116px)"></i><i style="left:163px;background:linear-gradient(#1d0000 0px,#2d0000 24px,#580000 37px,#3e0000 49px,#780000 70px,#460000 82px,#650000 89px,#860700 95px,#610000 101px,#2d0000 108px,#2e0000 116px)"></i><i style="left:164px;background:linear-gradient(#180000 0px,#1e0000 13px,#3d0000 25px,#410000 32px,#780000 42px,#300000 50px,#2a0000 58px,#300000 93px,#220000 108px,#190000 116px)"></i><i style="left:165px;background:linear-gradient(#180000 0px,#1e0000 15px,#5c0000 31px,#890a00 38px,#790000 42px,#430000 47px,#3d0000 63px,#2f0000 79px,#300000 88px,#140000 97px,#240000 109px,#180000 116px)"></i><i style="left:166px;background:linear-gradient(#160000 0px,#230000 12px,#270000 23px,#670000 37px,#590000 43px,#410000 55px,#3c0000 66px,#200000 82px,#170000 102px,#150000 116px)"></i><i style="left:167px;background:linear-gradient(#070000 0px,#140000 32px,#040000 116px)"></i><i style="left:168px;background:linear-gradient(#680000 0px,#400000 7px,#690000 20px,#690000 30px,#430000 43px,#8a0a00 65px,#690000 82px,#1c0000 96px,#150000 108px,#150000 116px)"></i><i style="left:169px;background:linear-gradient(#ff8c0c 0px,#e16100 9px,#f27200 17px,#c34300 27px,#b13100 34px,#7d0000 41px,#750000 47px,#991a00 53px,#ff8606 64px,#ff9313 70px,#ee6e00 76px,#c04100 82px,#790000 88px,#450000 96px,#2d0000 103px,#330000 116px)"></i><i style="left:170px;background:linear-gradient(#ff9e1f 0px,#ff8d0d 5px,#e36400 11px,#e96900 21px,#ff7f00 31px,#ab2c00 38px,#7d0000 42px,#680000 47px,#880800 52px,#c84900 59px,#d35400 70px,#f27300 79px,#860600 90px,#2e0000 101px,#350000 116px)"></i><i style="left:171px;background:linear-gradient(#eb6b00 0px,#d75800 14px,#ee6e00 21px,#ff9010 24px,#ffc344 29px,#ffa92a 33px,#f77800 36px,#a72700 42px,#961700 48px,#cb4b00 61px,#d15200 72px,#fc7d00 80px,#be3f00 87px,#7f0000 92px,#2e0000 101px,#2d0000 116px)"></i><i style="left:172px;background:linear-gradient(#cd4d00 0px,#ea6b00 6px,#d35300 16px,#fc7c00 22px,#ffb535 29px,#ffa829 36px,#f27300 42px,#d25300 47px,#e46500 57px,#fc7c00 64px,#b03100 79px,#750000 87px,#2a0000 102px,#250000 116px)"></i><i style="left:173px;background:linear-gradient(#da5b00 0px,#ff8001 3px,#ff9516 8px,#ff8304 17px,#ffa324 25px,#f87800 33px,#cc4d00 45px,#e06000 56px,#d85800 63px,#830300 71px,#870800 76px,#a62600 81px,#6f0000 88px,#2d0000 102px,#270000 116px)"></i><i style="left:174px;background:linear-gradient(#c34300 0px,#dc5d00 7px,#de5f00 23px,#a02100 39px,#d65600 51px,#bb3b00 60px,#c74700 69px,#c44500 79px,#9a1a00 85px,#790000 89px,#2c0000 105px,#210000 115px,#230000 116px)"></i><i style="left:175px;background:linear-gradient(#f27200 0px,#cd4d00 12px,#a82800 32px,#8f0f00 40px,#b33300 51px,#c24300 64px,#d25300 73px,#931400 82px,#770000 87px,#600000 97px,#450000 101px,#2e0000 116px)"></i><i style="left:176px;background:linear-gradient(#ffba3a 0px,#f77800 6px,#9e1e00 18px,#ab2b00 23px,#dd5e00 30px,#b43500 36px,#8b0c00 42px,#cf4f00 67px,#e46500 73px,#9c1c00 84px,#931300 92px,#660000 97px,#460000 101px,#3c0000 116px)"></i><i style="left:177px;background:linear-gradient(#7b0000 0px,#720000 25px,#8e0f00 31px,#750000 40px,#8a0a00 74px,#981900 112px,#941500 116px)"></i><i style="left:178px;background:linear-gradient(#ffa424 0px,#ffd757 69px,#ffff88 85px,#ffff9e 97px,#ffffcc 107px,#ffffad 116px)"></i><i style="left:179px;background:linear-gradient(#b83800 0px,#bd3e00 31px,#dc5c00 67px,#e66600 75px,#ff8000 89px,#ffd454 98px,#ffbe3e 104px,#ff9516 110px,#ff8d0d 116px)"></i><i style="left:180px;background:linear-gradient(#9e1f00 0px,#a32400 5px,#fd7e00 12px,#ff9f1f 16px,#f77700 25px,#b23200 35px,#b53500 43px,#df6000 52px,#f67600 65px,#ff9011 73px,#f47400 78px,#e16100 84px,#ff8303 89px,#ffd859 98px,#ffd556 103px,#f67700 111px,#c74700 116px)"></i><i style="left:181px;background:linear-gradient(#cc4d00 0px,#e06000 5px,#ff8607 8px,#ffba3a 13px,#ffb535 17px,#f47400 25px,#ae2e00 33px,#c04100 43px,#d75700 49px,#dc5d00 58px,#f07100 68px,#de5f00 76px,#a62700 83px,#bf4000 87px,#f67600 90px,#ffd555 95px,#ffe868 99px,#fd7d00 116px)"></i><i style="left:182px;background:linear-gradient(#ff8102 0px,#ff9414 9px,#f87900 13px,#b93a00 20px,#941500 37px,#971700 43px,#ac2c00 52px,#da5a00 68px,#fd7d00 75px,#cf5000 80px,#a22200 85px,#ba3b00 89px,#ff8607 93px,#ffbc3c 97px,#ffa425 101px,#f87800 105px,#ff8101 109px,#ffb637 116px)"></i><i style="left:183px;background:linear-gradient(#ff8001 0px,#e36300 14px,#d95900 28px,#830300 37px,#730000 43px,#a12200 62px,#f67600 70px,#ffa222 75px,#ff8f0f 79px,#ea6b00 82px,#991a00 89px,#981900 93px,#d55500 101px,#e06000 107px,#ff8000 110px,#ffb738 116px)"></i><i style="left:184px;background:linear-gradient(#cb4c00 0px,#c34400 7px,#c94900 12px,#ff8809 19px,#ffae2e 26px,#ff8a0a 31px,#ac2c00 38px,#840400 43px,#890900 58px,#ca4a00 64px,#fb7b00 67px,#ffc848 73px,#ffd151 77px,#ff7f00 83px,#b43500 89px,#b83800 94px,#d65700 100px,#a42500 108px,#cf4f00 113px,#f17200 116px)"></i><i style="left:185px;background:linear-gradient(#f37300 0px,#ff8808 3px,#f57500 6px,#b23300 12px,#bb3b00 19px,#f47400 29px,#d85800 36px,#9f1f00 42px,#9e1f00 52px,#921200 59px,#d55600 65px,#ff8303 68px,#ffb132 73px,#ffa526 77px,#fa7b00 80px,#a92900 86px,#a72800 91px,#c14200 99px,#800100 108px,#a12200 111px,#ff8001 115px,#ff9717 116px)"></i><i style="left:186px;background:linear-gradient(#ffa728 0px,#ffbb3b 4px,#ff8808 8px,#bd3e00 13px,#b03100 25px,#d25200 34px,#ae2e00 43px,#bb3b00 50px,#911100 58px,#b73800 63px,#fd7d00 68px,#ff9313 72px,#f47400 76px,#a92a00 82px,#ae2e00 93px,#aa2a00 100px,#e16100 109px,#ff8d0d 112px,#ffd859 116px)"></i><i style="left:187px;background:linear-gradient(#f47500 0px,#f47500 5px,#c04000 12px,#cd4e00 19px,#941400 27px,#a22200 38px,#9d1e00 43px,#a72800 50px,#a22200 56px,#f37300 66px,#db5c00 80px,#f27300 88px,#c34400 96px,#eb6b00 101px,#ff8b0c 104px,#ff9415 111px,#ffa526 116px)"></i><i style="left:188px;background:linear-gradient(#b33300 0px,#e56600 9px,#e06100 17px,#7e0000 27px,#750000 35px,#7f0000 43px,#d95a00 58px,#f37300 63px,#b93a00 73px,#e76800 81px,#ff8304 86px,#e16200 93px,#d65700 98px,#f37300 105px,#d95900 113px,#d25300 116px)"></i><i style="left:189px;background:linear-gradient(#ac2c00 0px,#ff8404 8px,#f77800 14px,#cb4c00 22px,#b73700 43px,#f27300 57px,#c84900 73px,#b53500 79px,#ff8808 88px,#ff9919 93px,#ff8d0d 97px,#ffff7f 105px,#ffff9c 108px,#fffd7e 113px,#ffd858 116px)"></i><i style="left:190px;background:linear-gradient(#ca4b00 0px,#e36400 12px,#d95a00 21px,#ff8808 27px,#ff8707 31px,#bd3d00 41px,#f27300 57px,#ca4b00 75px,#ff8303 84px,#ffd354 92px,#ffdd5d 97px,#ffff85 100px,#ffffa3 106px,#ffff80 110px,#ffc445 116px)"></i><i style="left:191px;background:linear-gradient(#911100 0px,#840500 5px,#c94a00 17px,#f37300 28px,#aa2a00 39px,#b53600 43px,#d65700 49px,#cb4b00 59px,#b63700 65px,#ff8808 73px,#ffbe3e 81px,#ffc647 89px,#ff8b0c 95px,#d85800 99px,#ca4a00 104px,#d75800 112px,#ba3b00 116px)"></i><i style="left:192px;background:linear-gradient(#a22200 0px,#ba3b00 6px,#d35400 12px,#b03000 31px,#901100 41px,#c54600 52px,#b23300 58px,#7b0000 64px,#810100 68px,#ff8102 79px,#ff9111 91px,#f77800 104px,#c84900 116px)"></i><i style="left:193px;background:linear-gradient(#260000 0px,#170000 33px,#210000 52px,#1b0000 76px,#370000 105px,#2e0000 116px)"></i><i style="left:197px;background:linear-gradient(#1e0000 0px,#240000 63px,#1d0000 78px,#300000 92px,#310000 116px)"></i><i style="left:198px;background:linear-gradient(#8a0a00 0px,#a92a00 9px,#d05000 31px,#ff8506 36px,#ffb636 41px,#ffa223 45px,#f97900 48px,#d25200 53px,#e06100 62px,#c14100 71px,#ff8506 81px,#ff9919 88px,#ff8e0e 96px,#ffcf4f 105px,#ffbc3c 109px,#f97a00 113px,#e36400 116px)"></i><i style="left:199px;background:linear-gradient(#8c0c00 0px,#770000 7px,#911200 14px,#cf4f00 25px,#e76700 31px,#ff8001 33px,#ffd859 39px,#ffd757 43px,#ff8102 50px,#a72700 67px,#c14200 71px,#fd7e00 75px,#ff9f20 79px,#ff7f00 84px,#ce4f00 90px,#e76700 95px,#ff8405 97px,#fff475 102px,#ffffbb 106px,#ffffb4 109px,#ffff84 111px,#fa7a00 116px)"></i><i style="left:200px;background:linear-gradient(#bd3d00 0px,#880800 11px,#b73700 31px,#fd7d00 39px,#dc5d00 53px,#981900 64px,#ad2d00 69px,#ff8102 75px,#ff9616 79px,#f87800 83px,#c74800 89px,#da5a00 94px,#ff8505 97px,#fff97a 102px,#ffffb2 105px,#ffffbe 108px,#ffff95 111px,#fff171 113px,#ffc445 116px)"></i><i style="left:201px;background:linear-gradient(#9a1a00 0px,#a02000 17px,#830300 25px,#b23300 37px,#c04100 48px,#f77800 70px,#ff8606 76px,#e56500 81px,#c04000 87px,#e86900 93px,#ff8b0b 96px,#ffc545 103px,#ffb131 108px,#fd7e00 113px,#fb7c00 116px)"></i><i style="left:202px;background:linear-gradient(#7c0000 0px,#b33400 13px,#951600 20px,#7f0000 26px,#b83800 48px,#bb3b00 57px,#f07000 68px,#9c1c00 85px,#b43400 90px,#fe7e00 96px,#ff8000 100px,#d85800 108px,#ca4b00 116px)"></i><i style="left:203px;background:linear-gradient(#300000 0px,#1f0000 11px,#310000 68px,#5f0000 86px,#3d0000 97px,#610000 109px,#4a0000 116px)"></i><i style="left:204px;background:linear-gradient(#3f0000 0px,#1e0000 24px,#2a0000 39px,#390000 50px,#370000 74px,#500000 86px,#510000 96px,#7e0000 107px,#720000 113px,#600000 116px)"></i><i style="left:205px;background:linear-gradient(#260000 0px,#230000 39px,#2c0000 57px,#280000 73px,#3b0000 86px,#420000 111px,#380000 116px)"></i><i style="left:206px;background:linear-gradient(#090000 0px,#0e0000 116px)"></i><i style="left:207px;background:linear-gradient(#090000 0px,#200000 38px,#4d0000 76px,#8a0a00 88px,#9c1d00 109px,#780000 114px,#690000 116px)"></i><i style="left:208px;background:linear-gradient(#180000 0px,#380000 27px,#6b0000 50px,#740000 64px,#9a1a00 70px,#fb7b00 83px,#ffc242 91px,#ffe263 100px,#ffff83 105px,#ffff83 109px,#ff8e0f 116px)"></i><i style="left:209px;background:linear-gradient(#200000 0px,#4c0000 34px,#620000 46px,#540000 58px,#8b0b00 73px,#fd7e00 86px,#ff8202 93px,#ff8505 98px,#ffff88 107px,#ffff9f 109px,#fff273 114px,#ffe161 116px)"></i><i style="left:210px;background:linear-gradient(#1e0000 0px,#260000 21px,#370000 32px,#530000 42px,#5f0000 54px,#8a0a00 66px,#850500 74px,#ee6f00 88px,#ff8b0c 97px,#ffec6c 109px,#ffc343 116px)"></i><i style="left:211px;background:linear-gradient(#050000 0px,#1f0000 74px,#320000 115px,#310000 116px)"></i></div>
<div class="sp" style="left:396px"><i style="left:24px;background:linear-gradient(#000000 0px,#050000 116px)"></i><i style="left:25px;background:linear-gradient(#000000 0px,#090000 44px,#1a0000 54px,#160000 77px,#100000 116px)"></i><i style="left:26px;background:linear-gradient(#000000 0px,#080000 42px,#210000 52px,#180000 74px,#220000 110px,#1b0000 116px)"></i><i style="left:27px;background:linear-gradient(#000000 0px,#070000 42px,#1d0000 54px,#260000 88px,#1b0000 116px)"></i><i style="left:28px;background:linear-gradient(#000000 0px,#090000 43px,#210000 82px,#150000 116px)"></i><i style="left:29px;background:linear-gradient(#000000 0px,#080000 43px,#290000 71px,#110000 116px)"></i><i style="left:30px;background:linear-gradient(#000000 0px,#090000 44px,#160000 57px,#180000 84px,#0e0000 116px)"></i><i style="left:31px;background:linear-gradient(#000000 0px,#060000 116px)"></i><i style="left:35px;background:linear-gradient(#010000 0px,#030000 116px)"></i><i style="left:36px;background:linear-gradient(#050000 0px,#0d0000 57px,#1d0000 70px,#1d0000 110px,#0d0000 116px)"></i><i style="left:37px;background:linear-gradient(#070000 0px,#120000 16px,#0e0000 44px,#170000 58px,#500000 74px,#360000 91px,#4a0000 100px,#220000 110px,#110000 116px)"></i><i style="left:38px;background:linear-gradient(#070000 0px,#1f0000 14px,#0e0000 39px,#1a0000 58px,#600000 74px,#280000 85px,#3a0000 92px,#4e0000 99px,#180000 108px,#110000 116px)"></i><i style="left:39px;background:linear-gradient(#090000 0px,#330000 18px,#080000 33px,#1c0000 58px,#4a0000 71px,#300000 81px,#180000 90px,#340000 100px,#160000 116px)"></i><i style="left:40px;background:linear-gradient(#100000 0px,#730000 15px,#210000 27px,#080000 38px,#190000 59px,#510000 77px,#4c0000 82px,#260000 91px,#430000 102px,#3d0000 112px,#1f0000 116px)"></i><i style="left:41px;background:linear-gradient(#1a0000 0px,#690000 9px,#800000 15px,#200000 27px,#070000 39px,#1b0000 59px,#7b0000 78px,#750000 81px,#350000 90px,#6d0000 101px,#3f0000 112px,#200000 116px)"></i><i style="left:42px;background:linear-gradient(#1b0000 0px,#5f0000 8px,#620000 16px,#0e0000 30px,#140000 47px,#230000 58px,#5e0000 77px,#380000 90px,#440000 98px,#170000 116px)"></i><i style="left:43px;background:linear-gradient(#210000 0px,#750000 8px,#650000 16px,#230000 27px,#080000 31px,#1c0000 58px,#4d0000 91px,#640000 97px,#320000 107px,#150000 116px)"></i><i style="left:44px;background:linear-gradient(#1e0000 0px,#710000 8px,#6c0000 16px,#3e0000 25px,#130000 30px,#140000 57px,#450000 66px,#360000 76px,#420000 82px,#300000 91px,#690000 100px,#550000 111px,#250000 116px)"></i><i style="left:45px;background:linear-gradient(#1a0000 0px,#3e0000 9px,#5b0000 23px,#170000 30px,#0f0000 50px,#1e0000 57px,#600000 67px,#570000 81px,#2d0000 90px,#730000 98px,#8b0c00 101px,#6f0000 110px,#230000 116px)"></i><i style="left:46px;background:linear-gradient(#1f0000 0px,#410000 7px,#4e0000 14px,#620000 22px,#140000 30px,#0b0000 44px,#230000 57px,#720000 75px,#580000 81px,#200000 89px,#3b0000 95px,#6c0000 101px,#2c0000 112px,#100000 116px)"></i><i style="left:47px;background:linear-gradient(#230000 0px,#690000 8px,#760000 19px,#5b0000 24px,#0f0000 30px,#0f0000 55px,#550000 69px,#840400 76px,#6e0000 81px,#230000 89px,#2f0000 95px,#500000 101px,#1b0000 114px,#120000 116px)"></i><i style="left:48px;background:linear-gradient(#270000 0px,#850600 7px,#890900 16px,#5c0000 24px,#050000 31px,#1a0000 56px,#840500 80px,#320000 90px,#490000 108px,#190000 116px)"></i><i style="left:49px;background:linear-gradient(#260000 0px,#780000 7px,#6c0000 17px,#570000 24px,#040000 31px,#1b0000 55px,#520000 69px,#540000 83px,#3d0000 91px,#5e0000 106px,#2d0000 114px,#1f0000 116px)"></i><i style="left:50px;background:linear-gradient(#230000 0px,#690000 7px,#7a0000 17px,#590000 24px,#080000 31px,#170000 57px,#480000 88px,#4e0000 92px,#700000 101px,#1f0000 116px)"></i><i style="left:51px;background:linear-gradient(#170000 0px,#500000 8px,#5e0000 17px,#3f0000 24px,#190000 29px,#040000 47px,#210000 60px,#310000 69px,#3c0000 81px,#470000 91px,#650000 98px,#530000 101px,#190000 107px,#180000 116px)"></i><i style="left:52px;background:linear-gradient(#0a0000 0px,#2b0000 18px,#0a0000 44px,#1f0000 58px,#4e0000 67px,#3a0000 77px,#530000 86px,#4a0000 91px,#450000 98px,#0f0000 106px,#1c0000 115px,#190000 116px)"></i><i style="left:53px;background:linear-gradient(#0b0000 0px,#2b0000 19px,#110000 39px,#280000 57px,#3c0000 67px,#210000 77px,#460000 87px,#470000 94px,#440000 107px,#220000 115px,#1b0000 116px)"></i><i style="left:54px;background:linear-gradient(#0b0000 0px,#0e0000 16px,#100000 33px,#1d0000 57px,#380000 66px,#1b0000 77px,#350000 89px,#550000 104px,#4a0000 111px,#1e0000 116px)"></i><i style="left:55px;background:linear-gradient(#090000 0px,#0a0000 14px,#1d0000 27px,#0e0000 40px,#160000 57px,#480000 67px,#410000 91px,#6c0000 101px,#380000 112px,#180000 116px)"></i><i style="left:56px;background:linear-gradient(#070000 0px,#250000 23px,#0a0000 40px,#1a0000 57px,#500000 68px,#530000 82px,#3f0000 91px,#710000 101px,#3c0000 111px,#130000 116px)"></i><i style="left:57px;background:linear-gradient(#0b0000 0px,#240000 13px,#230000 25px,#0b0000 39px,#110000 58px,#470000 71px,#840400 77px,#9e1e00 80px,#6f0000 86px,#440000 91px,#570000 98px,#6b0000 103px,#470000 111px,#1c0000 116px)"></i><i style="left:58px;background:linear-gradient(#0e0000 0px,#280000 9px,#320000 22px,#0b0000 36px,#100000 58px,#420000 72px,#7b0000 81px,#5b0000 88px,#440000 92px,#3d0000 98px,#610000 107px,#430000 112px,#220000 116px)"></i><i style="left:59px;background:linear-gradient(#0b0000 0px,#290000 11px,#350000 20px,#0a0000 36px,#0e0000 58px,#360000 73px,#440000 108px,#190000 116px)"></i><i style="left:60px;background:linear-gradient(#0c0000 0px,#290000 17px,#0b0000 40px,#130000 60px,#310000 74px,#240000 88px,#460000 102px,#290000 114px,#1e0000 116px)"></i><i style="left:61px;background:linear-gradient(#060000 0px,#0d0000 63px,#1a0000 78px,#120000 91px,#1c0000 111px,#0f0000 116px)"></i><i style="left:62px;background:linear-gradient(#010000 0px,#020000 116px)"></i><i style="left:77px;background:linear-gradient(#dd5e00 0px,#ba3b00 37px,#db5b00 62px,#fa7b00 80px,#ff9111 101px,#ff9819 116px)"></i><i style="left:78px;background:linear-gradient(#ffde5f 0px,#ffc546 16px,#ffb334 41px,#ffcd4e 59px,#ffd757 69px,#ffff85 80px,#ffffa3 99px,#ffffc5 112px,#ffffbd 116px)"></i><i style="left:79px;background:linear-gradient(#ffcd4e 0px,#ffa526 29px,#ff9e1e 39px,#ffd556 74px,#ffff87 91px,#ffffab 111px,#ffffa6 116px)"></i><i style="left:80px;background:linear-gradient(#cc4d00 0px,#cb4b00 15px,#be3e00 29px,#931400 37px,#bb3b00 43px,#ff8101 51px,#ffcc4c 57px,#ffc747 61px,#ff8304 67px,#ff8d0d 71px,#ffca4b 78px,#ffc848 86px,#ff9c1d 95px,#ffab2c 106px,#ff9e1f 116px)"></i><i style="left:81px;background:linear-gradient(#d75800 0px,#cb4b00 6px,#b33300 12px,#be3e00 24px,#a92900 39px,#bf3f00 47px,#d35400 53px,#ff8202 62px,#ffda5b 83px,#ffa728 95px,#ffcf4f 106px,#ffac2c 115px,#ffae2f 116px)"></i><i style="left:82px;background:linear-gradient(#eb6b00 0px,#981800 11px,#9e1f00 21px,#7a0000 34px,#4d0000 48px,#700000 55px,#8a0b00 58px,#fd7d00 67px,#ff9212 76px,#ff991a 85px,#f37300 89px,#de5f00 93px,#ff8606 97px,#ffd959 104px,#fff070 114px,#fff273 116px)"></i><i style="left:83px;background:linear-gradient(#d55600 0px,#7a0000 13px,#2a0000 27px,#130000 44px,#260000 52px,#730000 59px,#9f1f00 62px,#f27200 67px,#fd7e00 74px,#ff7f00 86px,#d65600 92px,#ef7000 96px,#ff9818 99px,#ffc848 105px,#fff070 116px)"></i><i style="left:84px;background:linear-gradient(#b53600 0px,#7a0000 10px,#3a0000 23px,#160000 34px,#110000 50px,#440000 57px,#800000 61px,#db5b00 67px,#c84900 73px,#a82900 79px,#d55600 84px,#ff8808 88px,#ffab2c 96px,#ffa627 104px,#ff8c0c 110px,#ffb737 116px)"></i><i style="left:85px;background:linear-gradient(#a82800 0px,#880800 6px,#5b0000 13px,#3c0000 22px,#1c0000 29px,#0e0000 44px,#1e0000 52px,#5f0000 59px,#8e0f00 63px,#b53600 67px,#790000 76px,#7d0000 80px,#b93900 84px,#ff8405 88px,#ffaf30 93px,#ff9d1d 101px,#f77700 105px,#dd5e00 110px,#ff8000 114px,#ff9a1a 116px)"></i><i style="left:86px;background:linear-gradient(#bf4000 0px,#b73700 5px,#770000 12px,#1d0000 27px,#080000 42px,#260000 52px,#680000 60px,#8e0e00 63px,#c94a00 67px,#c14100 73px,#a52500 79px,#fb7b00 89px,#fd7e00 104px,#eb6b00 110px,#ff8607 113px,#ffbc3c 116px)"></i><i style="left:87px;background:linear-gradient(#a92a00 0px,#7c0000 7px,#680000 17px,#280000 27px,#0d0000 41px,#280000 51px,#720000 64px,#911100 66px,#df5f00 72px,#e26300 78px,#ef6f00 89px,#c34400 97px,#e26200 101px,#ff8102 103px,#ffb233 108px,#ffaa2b 116px)"></i><i style="left:88px;background:linear-gradient(#b03000 0px,#800000 3px,#580000 8px,#5c0000 17px,#250000 27px,#130000 42px,#2b0000 51px,#630000 62px,#7e0000 64px,#c94900 68px,#f07100 74px,#ff890a 82px,#ffb131 89px,#f97a00 96px,#f27300 99px,#ff8707 101px,#fff879 107px,#ffff88 110px,#fff373 113px,#ffc647 116px)"></i><i style="left:89px;background:linear-gradient(#d35400 0px,#7d0000 8px,#1e0000 25px,#120000 44px,#250000 51px,#670000 60px,#820300 62px,#e26200 67px,#cc4c00 77px,#ff8000 84px,#ffd95a 92px,#ffc949 97px,#ffaf2f 102px,#ffff83 112px,#fff97a 116px)"></i><i style="left:90px;background:linear-gradient(#b33400 0px,#7b0000 12px,#590000 18px,#390000 29px,#2d0000 44px,#3b0000 51px,#7c0000 57px,#f57600 63px,#ffc243 67px,#ff9617 82px,#ffd051 96px,#ffb838 102px,#ffb536 116px)"></i><i style="left:91px;background:linear-gradient(#eb6c00 0px,#b83900 13px,#a62700 22px,#c14200 40px,#c74800 52px,#fd7e00 58px,#ffb839 64px,#ffb737 68px,#ff8607 77px,#ff9d1d 82px,#ffed6e 89px,#ffe061 94px,#ffd556 97px,#ffe464 103px,#fff071 107px,#ffff94 112px,#ffff96 116px)"></i><i style="left:92px;background:linear-gradient(#ffa424 0px,#fb7b00 14px,#e46400 21px,#e66700 26px,#ff8b0c 32px,#ffb838 41px,#ffa525 56px,#ffb333 72px,#ffeb6b 82px,#ffff8d 85px,#ffffa4 89px,#fff778 98px,#ffff84 107px,#ffffcc 114px,#ffffcd 116px)"></i><i style="left:93px;background:linear-gradient(#fb7c00 0px,#ea6a00 15px,#d15100 20px,#f67600 28px,#ffaa2b 37px,#ffa627 51px,#ffb536 59px,#ffa727 68px,#ffd656 80px,#ffff84 86px,#ffff8f 92px,#fff171 96px,#ffff95 102px,#ffff97 115px,#ffff90 116px)"></i><i style="left:94px;background:linear-gradient(#b23300 0px,#db5c00 13px,#c34400 26px,#e86900 38px,#c34400 44px,#901100 50px,#b13100 55px,#ff8101 65px,#ff9516 72px,#fd7d00 81px,#ffab2b 86px,#ffd353 91px,#ff8e0e 101px,#f97900 110px,#f47500 116px)"></i><i style="left:95px;background:linear-gradient(#180000 0px,#260000 75px,#2b0000 89px,#830400 95px,#a92900 97px,#961700 105px,#770000 106px,#1f0000 109px,#210000 116px)"></i><i style="left:96px;background:linear-gradient(#000000 0px,#010000 85px,#840400 96px,#9a1b00 98px,#a62600 105px,#850600 106px,#010000 110px,#010000 116px)"></i><i style="left:97px;background:linear-gradient(#000000 0px,#060000 86px,#4b0000 102px,#500000 105px,#000000 110px,#000000 116px)"></i><i style="left:107px;background:linear-gradient(#cb4b00 0px,#d15200 51px,#e76800 67px,#e56500 94px,#ff8506 108px,#ff8102 116px)"></i><i style="left:108px;background:linear-gradient(#ffc647 0px,#ffb233 16px,#ffac2d 26px,#ffd758 78px,#fff374 95px,#ffffa3 108px,#ffff9e 116px)"></i><i style="left:109px;background:linear-gradient(#cc4c00 0px,#d65700 7px,#ff8a0b 13px,#ffb232 20px,#ff9f1f 25px,#f17200 29px,#cc4c00 34px,#cc4d00 43px,#ae2f00 51px,#d45500 56px,#ff8000 59px,#ff9a1a 63px,#f57500 67px,#9c1d00 74px,#9b1b00 79px,#d05000 88px,#e36300 95px,#ff8607 98px,#ffc545 104px,#ffd050 110px,#ffa92a 116px)"></i><i style="left:110px;background:linear-gradient(#fe7f00 0px,#e56500 11px,#ff8808 18px,#ffaf30 25px,#ff8b0c 29px,#d95900 32px,#9c1c00 37px,#9b1c00 41px,#eb6c00 51px,#ff8808 56px,#ff9e1f 61px,#f67700 65px,#a12100 72px,#a12100 77px,#ff890a 84px,#ffb838 89px,#ffbf3f 102px,#ffbe3f 108px,#ffed6e 115px,#ffee6e 116px)"></i><i style="left:111px;background:linear-gradient(#fb7b00 0px,#c74800 20px,#c54500 28px,#7e0000 38px,#870800 43px,#c84800 52px,#c64600 67px,#fc7d00 80px,#ffdf60 89px,#ffff8c 98px,#ffff82 103px,#ffe465 109px,#fff979 116px)"></i><i style="left:112px;background:linear-gradient(#d95a00 0px,#8a0b00 17px,#5f0000 27px,#690000 39px,#620000 47px,#8d0d00 54px,#a62700 65px,#fc7d00 75px,#ff890a 83px,#ff9718 89px,#ffc343 96px,#ffa425 101px,#f77800 105px,#f77700 109px,#ff991a 112px,#ffd050 116px)"></i><i style="left:113px;background:linear-gradient(#690000 0px,#370000 21px,#520000 31px,#410000 45px,#5a0000 57px,#680000 65px,#991a00 76px,#931300 86px,#870700 95px,#e26300 106px,#eb6b00 109px,#b83800 116px)"></i><i style="left:114px;background:linear-gradient(#2a0000 0px,#390000 17px,#7c0000 21px,#bf4000 25px,#f57600 34px,#da5b00 40px,#7a0000 47px,#620000 50px,#8d0d00 59px,#770000 75px,#991900 82px,#f47500 92px,#ffa121 95px,#ffff80 103px,#ffff8a 109px,#ffcc4c 114px,#ffbf3f 116px)"></i><i style="left:115px;background:linear-gradient(#270000 0px,#360000 17px,#800000 21px,#c74800 25px,#e96a00 35px,#db5c00 41px,#780000 50px,#b83900 65px,#850500 75px,#e66600 90px,#ff8708 95px,#ff8708 106px,#ff9212 110px,#ff9b1c 116px)"></i><i style="left:116px;background:linear-gradient(#280000 0px,#2b0000 17px,#800000 22px,#b53500 25px,#bc3d00 42px,#800000 50px,#cc4d00 66px,#991a00 78px,#b63700 83px,#fd7d00 89px,#ffbc3c 95px,#ff9e1f 100px,#ff8505 106px,#ff9f1f 111px,#ffa727 116px)"></i><i style="left:117px;background:linear-gradient(#2e0000 0px,#290000 17px,#7a0000 22px,#ac2c00 25px,#cf4f00 39px,#9a1a00 47px,#7f0000 50px,#ba3a00 62px,#d95a00 67px,#c14200 75px,#b43500 81px,#ff8000 88px,#ffe061 95px,#ffdd5e 100px,#ffdd5d 105px,#ffff97 109px,#fffe7f 114px,#ffdf5f 116px)"></i><i style="left:118px;background:linear-gradient(#2c0000 0px,#2a0000 17px,#840500 22px,#b73700 25px,#ae2f00 37px,#7a0000 47px,#6a0000 50px,#931300 58px,#ca4a00 67px,#c54600 79px,#eb6c00 83px,#ff9a1a 86px,#fff172 93px,#ffffa7 101px,#fffffa 107px,#ffffff 109px,#ffff83 114px,#ffd353 116px)"></i><i style="left:119px;background:linear-gradient(#270000 0px,#2d0000 17px,#820200 22px,#b13100 25px,#9a1a00 34px,#730000 39px,#440000 50px,#860700 61px,#9d1d00 68px,#981900 79px,#f57600 89px,#ffd353 99px,#ffff87 103px,#ffffaf 108px,#ffffaf 109px,#ffff82 111px,#ffa425 116px)"></i><i style="left:120px;background:linear-gradient(#090000 0px,#130000 19px,#2e0000 31px,#120000 54px,#2b0000 83px,#450000 101px,#6d0000 110px,#610000 116px)"></i><i style="left:121px;background:linear-gradient(#000000 0px,#090000 91px,#790000 108px,#830300 112px,#730000 116px)"></i><i style="left:122px;background:linear-gradient(#000000 0px,#080000 91px,#6c0000 106px,#8e0f00 110px,#710000 116px)"></i><i style="left:123px;background:linear-gradient(#000000 0px,#090000 93px,#440000 112px,#470000 116px)"></i><i style="left:130px;background:linear-gradient(#000000 0px,#0e0000 114px,#0d0000 116px)"></i><i style="left:131px;background:linear-gradient(#000000 0px,#0e0000 66px,#2d0000 91px,#170000 112px,#0e0000 116px)"></i><i style="left:132px;background:linear-gradient(#000000 0px,#0b0000 49px,#170000 69px,#1e0000 84px,#230000 109px,#1b0000 116px)"></i><i style="left:133px;background:linear-gradient(#000000 0px,#090000 46px,#1c0000 65px,#0c0000 73px,#310000 89px,#240000 112px,#2b0000 116px)"></i><i style="left:134px;background:linear-gradient(#000000 0px,#0b0000 51px,#220000 75px,#480000 85px,#250000 97px,#370000 110px,#2b0000 116px)"></i><i style="left:135px;background:linear-gradient(#000000 0px,#0b0000 48px,#360000 79px,#460000 86px,#340000 95px,#3e0000 105px,#1d0000 116px)"></i><i style="left:136px;background:linear-gradient(#000000 0px,#090000 47px,#0d0000 58px,#040000 71px,#3f0000 85px,#410000 102px,#190000 111px,#190000 116px)"></i><i style="left:137px;background:linear-gradient(#000000 0px,#090000 46px,#0c0000 60px,#020000 73px,#330000 82px,#300000 92px,#390000 102px,#310000 116px)"></i><i style="left:138px;background:linear-gradient(#000000 0px,#090000 45px,#2a0000 65px,#190000 74px,#350000 82px,#170000 91px,#330000 112px,#2c0000 116px)"></i><i style="left:139px;background:linear-gradient(#000000 0px,#090000 46px,#3d0000 65px,#230000 76px,#2e0000 84px,#110000 95px,#450000 107px,#250000 116px)"></i><i style="left:140px;background:linear-gradient(#000000 0px,#090000 47px,#2b0000 66px,#280000 78px,#370000 88px,#270000 99px,#450000 108px,#2e0000 116px)"></i><i style="left:141px;background:linear-gradient(#000000 0px,#0a0000 47px,#1c0000 81px,#470000 106px,#210000 116px)"></i><i style="left:142px;background:linear-gradient(#000000 0px,#090000 45px,#080000 61px,#150000 75px,#4d0000 101px,#4b0000 107px,#190000 116px)"></i><i style="left:143px;background:linear-gradient(#000000 0px,#0a0000 44px,#160000 60px,#2a0000 92px,#4a0000 105px,#0e0000 116px)"></i><i style="left:144px;background:linear-gradient(#000000 0px,#090000 44px,#1b0000 60px,#170000 83px,#170000 91px,#580000 104px,#090000 116px)"></i><i style="left:145px;background:linear-gradient(#030000 0px,#0e0000 51px,#290000 71px,#1a0000 87px,#520000 102px,#0e0000 116px)"></i><i style="left:146px;background:linear-gradient(#230000 0px,#3d0000 15px,#360000 28px,#3b0000 39px,#2d0000 52px,#330000 74px,#310000 83px,#5f0000 103px,#230000 114px,#230000 116px)"></i><i style="left:147px;background:linear-gradient(#5e0000 0px,#6d0000 11px,#770000 19px,#500000 27px,#6c0000 38px,#510000 52px,#4a0000 66px,#4f0000 93px,#650000 104px,#420000 112px,#3a0000 116px)"></i><i style="left:148px;background:linear-gradient(#530000 0px,#590000 9px,#8b0c00 18px,#7a0000 25px,#620000 32px,#740000 41px,#400000 64px,#500000 79px,#540000 87px,#480000 92px,#4f0000 108px,#330000 116px)"></i><i style="left:149px;background:linear-gradient(#460000 0px,#660000 9px,#921300 20px,#6d0000 29px,#8c0d00 40px,#5e0000 49px,#460000 64px,#4f0000 75px,#710000 85px,#470000 97px,#510000 107px,#350000 116px)"></i><i style="left:150px;background:linear-gradient(#4d0000 0px,#4a0000 7px,#880800 18px,#850600 26px,#720000 34px,#790000 45px,#490000 62px,#550000 74px,#7a0000 84px,#410000 99px,#430000 111px,#310000 116px)"></i><i style="left:151px;background:linear-gradient(#4d0000 0px,#440000 14px,#660000 28px,#4f0000 40px,#640000 50px,#3b0000 81px,#290000 97px,#2f0000 116px)"></i><i style="left:152px;background:linear-gradient(#120000 0px,#230000 71px,#3c0000 82px,#1b0000 101px,#0f0000 116px)"></i><i style="left:153px;background:linear-gradient(#010000 0px,#0b0000 45px,#260000 70px,#250000 83px,#2d0000 93px,#190000 102px,#330000 112px,#2a0000 116px)"></i><i style="left:154px;background:linear-gradient(#000000 0px,#090000 44px,#390000 68px,#170000 79px,#440000 90px,#360000 104px,#370000 114px,#2f0000 116px)"></i><i style="left:155px;background:linear-gradient(#000000 0px,#090000 45px,#280000 69px,#350000 80px,#390000 88px,#250000 101px,#240000 116px)"></i><i style="left:156px;background:linear-gradient(#000000 0px,#0a0000 48px,#340000 82px,#0c0000 103px,#1f0000 114px,#190000 116px)"></i><i style="left:157px;background:linear-gradient(#000000 0px,#0a0000 46px,#2b0000 65px,#3f0000 78px,#300000 99px,#370000 109px,#130000 116px)"></i><i style="left:158px;background:linear-gradient(#010000 0px,#0b0000 48px,#2a0000 67px,#4d0000 79px,#450000 92px,#4e0000 105px,#130000 116px)"></i><i style="left:159px;background:linear-gradient(#1a0000 0px,#1e0000 26px,#1a0000 67px,#3c0000 93px,#350000 108px,#130000 116px)"></i><i style="left:160px;background:linear-gradient(#760000 0px,#6c0000 8px,#790000 16px,#4f0000 28px,#4c0000 42px,#550000 51px,#380000 66px,#560000 79px,#3d0000 103px,#3d0000 116px)"></i><i style="left:161px;background:linear-gradient(#540000 0px,#5c0000 10px,#670000 22px,#440000 42px,#640000 60px,#410000 100px,#420000 113px,#3e0000 116px)"></i><i style="left:162px;background:linear-gradient(#3b0000 0px,#5a0000 14px,#860700 21px,#8b0b00 32px,#890900 38px,#6b0000 47px,#3f0000 97px,#550000 107px,#370000 114px,#360000 116px)"></i><i style="left:163px;background:linear-gradient(#4b0000 0px,#490000 11px,#860700 20px,#951500 27px,#650000 38px,#430000 46px,#490000 64px,#3a0000 77px,#3f0000 92px,#410000 109px,#280000 116px)"></i><i style="left:164px;background:linear-gradient(#160000 0px,#130000 89px,#0f0000 116px)"></i><i style="left:167px;background:linear-gradient(#230000 0px,#150000 26px,#140000 93px,#000000 115px,#000000 116px)"></i><i style="left:168px;background:linear-gradient(#740000 0px,#921300 9px,#6f0000 19px,#4f0000 34px,#4f0000 67px,#850500 79px,#000000 106px,#000000 116px)"></i><i style="left:169px;background:linear-gradient(#760000 0px,#810200 19px,#830400 26px,#630000 35px,#660000 50px,#6b0000 70px,#840500 80px,#000000 105px,#000000 116px)"></i><i style="left:170px;background:linear-gradient(#670000 0px,#540000 9px,#740000 21px,#540000 35px,#7a0000 58px,#640000 74px,#870800 83px,#620000 91px,#000000 106px,#000000 116px)"></i><i style="left:171px;background:linear-gradient(#530000 0px,#530000 9px,#5a0000 18px,#480000 28px,#5c0000 43px,#5b0000 66px,#3e0000 76px,#530000 86px,#370000 97px,#000000 106px,#000000 116px)"></i><i style="left:172px;background:linear-gradient(#120000 0px,#090000 98px,#000000 116px)"></i><i style="left:176px;background:linear-gradient(#100000 0px,#160000 116px)"></i><i style="left:177px;background:linear-gradient(#ff9313 0px,#ffa728 21px,#ffb939 37px,#ffc344 62px,#ffd252 74px,#fff273 92px,#fffd7e 107px,#fffb7c 116px)"></i><i style="left:178px;background:linear-gradient(#ff9b1b 0px,#ffa626 12px,#ffbb3c 23px,#ffd454 50px,#ffd353 63px,#ffe464 77px,#ffff8d 95px,#ffff8e 114px,#ffff88 116px)"></i><i style="left:179px;background:linear-gradient(#bb3c00 0px,#7d0000 11px,#730000 46px,#830300 89px,#ba3b00 95px,#d95900 107px,#e86900 116px)"></i><i style="left:180px;background:linear-gradient(#ff8000 0px,#a92a00 6px,#a42400 11px,#b73700 17px,#7e0000 27px,#7b0000 38px,#5e0000 45px,#7a0000 56px,#8a0b00 64px,#b63600 73px,#8f0f00 88px,#db5b00 98px,#ff7f00 101px,#ffe262 108px,#ffe868 113px,#ffc949 116px)"></i><i style="left:181px;background:linear-gradient(#d95a00 0px,#dc5c00 7px,#fe7f00 15px,#840500 34px,#4b0000 44px,#860600 56px,#e56500 71px,#f97a00 82px,#e66600 90px,#ff8c0d 95px,#ffb838 104px,#ffac2c 111px,#ff8e0f 116px)"></i><i style="left:182px;background:linear-gradient(#d55500 0px,#ff8001 7px,#ffcc4c 15px,#ff8f10 26px,#e86800 29px,#8e0f00 37px,#680000 44px,#8c0c00 52px,#e06100 63px,#d35300 73px,#ff7f00 78px,#ffb839 84px,#ffab2b 99px,#f97a00 107px,#ff8001 116px)"></i><i style="left:183px;background:linear-gradient(#f07100 0px,#ec6d00 16px,#7e0000 35px,#740000 45px,#8e0f00 55px,#ed6d00 64px,#ff8808 77px,#ff9414 95px,#ff8304 108px,#ffa323 116px)"></i><i style="left:184px;background:linear-gradient(#cd4e00 0px,#e06100 8px,#b03000 17px,#8f1000 23px,#951500 34px,#6d0000 42px,#600000 47px,#750000 54px,#981800 57px,#f97900 63px,#ff9a1a 68px,#fc7c00 74px,#b33400 82px,#cb4b00 87px,#ff8809 93px,#ffd051 103px,#ffb839 108px,#ff7f00 113px,#f87800 116px)"></i><i style="left:185px;background:linear-gradient(#911100 0px,#e36400 7px,#d95a00 12px,#c04100 19px,#dc5d00 28px,#b13100 34px,#7f0000 38px,#520000 44px,#860600 52px,#e06000 63px,#cf4f00 68px,#8d0d00 78px,#941400 84px,#d65600 90px,#ff8607 93px,#ffec6d 100px,#fff373 103px,#ffcb4b 106px,#ff8303 109px,#b03100 113px,#a82900 116px)"></i><i style="left:186px;background:linear-gradient(#b53600 0px,#e66600 8px,#ba3b00 17px,#ff8001 26px,#e76700 30px,#7a0000 38px,#660000 44px,#870700 47px,#c24200 54px,#c04000 63px,#850600 73px,#a62700 80px,#ff8809 89px,#ffce4e 96px,#ffc243 101px,#f97900 107px,#d05100 112px,#d75800 116px)"></i><i style="left:187px;background:linear-gradient(#e66700 0px,#e16200 7px,#870700 15px,#8c0c00 19px,#b73800 26px,#780000 36px,#5d0000 44px,#8d0e00 49px,#d15200 58px,#d75700 64px,#9a1b00 73px,#b63600 79px,#ff8404 86px,#ffb434 92px,#ff9415 97px,#ea6b00 100px,#c64700 104px,#d95900 108px,#ff8404 112px,#ff9818 116px)"></i><i style="left:188px;background:linear-gradient(#fa7a00 0px,#d95900 11px,#800100 27px,#5c0000 44px,#890a00 51px,#d85800 59px,#ff8000 63px,#f37400 67px,#991900 74px,#961700 78px,#fe7f00 90px,#f57500 95px,#a92900 103px,#b93a00 107px,#ff8404 112px,#ffae2e 116px)"></i><i style="left:189px;background:linear-gradient(#ffb839 0px,#ff9f1f 6px,#f97a00 16px,#9c1c00 24px,#780000 37px,#780000 45px,#e16100 58px,#f97900 62px,#dc5d00 66px,#800000 71px,#6b0000 73px,#720000 80px,#8f0f00 82px,#d95a00 88px,#f97a00 103px,#ff8d0e 108px,#fff777 116px)"></i><i style="left:190px;background:linear-gradient(#ff9313 0px,#f97a00 4px,#c34400 10px,#cd4d00 17px,#9a1a00 29px,#840500 40px,#6b0000 45px,#840500 50px,#ff7f00 59px,#f87900 63px,#9c1c00 70px,#c14100 83px,#ff8102 91px,#ffb131 103px,#ffff80 109px,#ffff90 116px)"></i><i style="left:191px;background:linear-gradient(#670000 0px,#560000 5px,#630000 19px,#620000 26px,#840400 42px,#700000 56px,#8d0e00 70px,#ff8707 91px,#ffb132 101px,#ffb131 113px,#ffc142 116px)"></i><i style="left:192px;background:linear-gradient(#170000 0px,#360000 38px,#330000 62px,#7b0000 97px,#880900 105px,#660000 115px,#680000 116px)"></i><i style="left:196px;background:linear-gradient(#1b0000 0px,#1c0000 47px,#420000 97px,#330000 116px)"></i><i style="left:197px;background:linear-gradient(#780000 0px,#880900 8px,#b33300 16px,#820300 23px,#730000 28px,#b73700 50px,#c54600 62px,#ff8405 71px,#ffcb4b 86px,#ffb93a 92px,#ff8b0c 98px,#ffaa2a 103px,#ffca4b 108px,#ff8d0e 113px,#f17200 115px,#e76700 116px)"></i><i style="left:198px;background:linear-gradient(#961600 0px,#9a1a00 7px,#d75700 15px,#be3f00 19px,#7b0000 25px,#870700 36px,#e56500 50px,#da5a00 62px,#ff8b0b 70px,#ffd657 84px,#ffc646 97px,#fffd7d 105px,#ffd758 110px,#ff9d1e 116px)"></i><i style="left:199px;background:linear-gradient(#9c1d00 0px,#ac2d00 9px,#d75800 17px,#971800 30px,#ce4e00 59px,#e36400 80px,#ff8909 87px,#ffc748 97px,#ff9718 112px,#ffa223 116px)"></i><i style="left:200px;background:linear-gradient(#670000 0px,#8c0c00 7px,#d45500 16px,#c54600 22px,#b03000 29px,#ca4b00 40px,#cb4c00 56px,#ef6f00 84px,#ff8d0d 89px,#ffd959 97px,#ffbb3b 102px,#fa7b00 108px,#c14200 115px,#c04000 116px)"></i><i style="left:201px;background:linear-gradient(#5d0000 0px,#6f0000 6px,#941400 11px,#a52600 17px,#880900 29px,#b63600 54px,#f67700 71px,#ff8a0a 81px,#ffce4f 95px,#ffff82 101px,#fff272 105px,#ffa526 110px,#f97900 112px,#b63700 116px)"></i><i style="left:202px;background:linear-gradient(#380000 0px,#3d0000 11px,#240000 35px,#420000 49px,#540000 68px,#5f0000 77px,#820300 94px,#a62600 102px,#820200 113px,#6e0000 116px)"></i><i style="left:205px;background:linear-gradient(#000000 0px,#170000 66px,#760000 96px,#460000 105px,#380000 112px,#470000 116px)"></i><i style="left:206px;background:linear-gradient(#000000 0px,#1f0000 59px,#460000 66px,#860600 72px,#e56600 85px,#e26300 94px,#e36400 101px,#ff8d0e 106px,#ffaf30 109px,#ff9c1c 116px)"></i><i style="left:207px;background:linear-gradient(#000000 0px,#180000 55px,#8a0a00 70px,#c94a00 87px,#ff8102 94px,#ffbd3d 101px,#ffff82 105px,#ffffb4 109px,#fff576 113px,#ffc748 116px)"></i><i style="left:208px;background:linear-gradient(#000000 0px,#1b0000 55px,#850500 71px,#820200 84px,#b73800 89px,#ff8303 93px,#ffc748 98px,#ffff82 109px,#ffb536 116px)"></i><i style="left:209px;background:linear-gradient(#000000 0px,#120000 58px,#600000 94px,#8b0b00 102px,#aa2a00 110px,#820200 116px)"></i><i style="left:210px;background:linear-gradient(#000000 0px,#060000 116px)"></i></div>
</div></body></html>
